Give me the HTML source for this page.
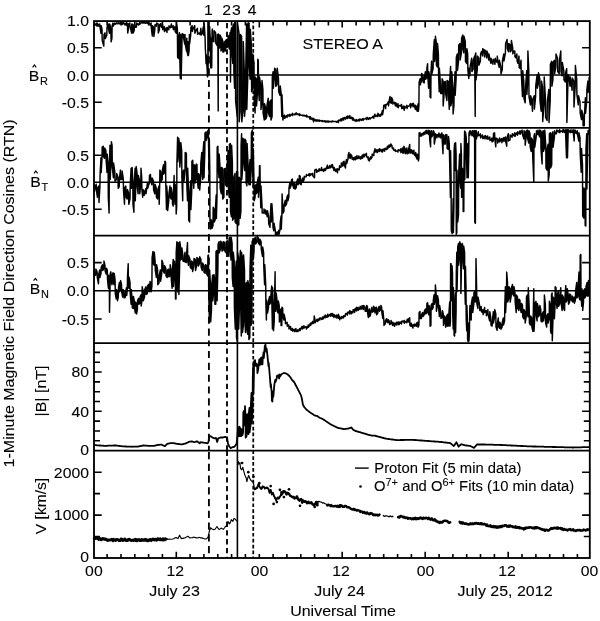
<!DOCTYPE html><html><head><meta charset="utf-8"><title>STEREO A</title>
<style>html,body{margin:0;padding:0;background:#fff}svg{display:block;will-change:transform;opacity:0.999}text{font-family:"Liberation Sans",Arial,Helvetica,sans-serif;fill:#000}</style></head><body>
<svg width="600" height="621" viewBox="0 0 600 621">
<rect width="600" height="621" fill="#fff"/>
<path d="M94.2 23.0 L94.4 25.4 L95.2 25.3 L96.1 23.2 L97.1 26.2 L97.3 23.0 L98.0 24.3 L98.8 26.2 L99.7 23.9 L99.9 26.2 L101.0 33.3 L101.2 25.7 L102.0 29.2 L102.2 40.4 L103.8 46.1 L104.0 34.5 L105.0 32.8 L105.2 38.6 L106.8 35.1 L107.0 27.4 L108.2 23.9 L108.4 28.0 L109.5 33.3 L109.7 23.9 L110.9 29.2 L111.1 41.8 L111.9 38.6 L112.1 25.7 L113.0 23.0 L113.2 26.2 L113.9 24.9 L114.8 23.1 L115.7 24.2 L116.5 22.8 L117.4 23.7 L118.3 22.8 L119.2 24.0 L120.1 22.5 L121.0 24.0 L121.9 22.5 L122.1 24.5 L122.7 23.6 L123.6 22.6 L124.5 24.8 L125.4 23.4 L126.3 25.4 L126.5 22.5 L127.5 23.9 L127.7 33.0 L128.6 28.0 L128.8 23.9 L129.8 23.0 L130.0 26.2 L131.6 33.0 L131.8 23.9 L132.8 24.8 L133.0 33.3 L134.2 30.7 L134.4 23.9 L135.3 27.3 L136.4 27.1 L136.6 23.0 L137.4 23.8 L138.5 24.9 L139.6 22.5 L139.8 24.5 L140.4 23.2 L141.3 22.5 L142.2 23.0 L143.1 22.6 L143.6 23.1 L144.1 22.5 L144.5 23.1 L145.0 22.8 L145.5 23.3 L146.0 22.7 L146.5 23.1 L147.0 22.7 L147.4 23.2 L147.9 22.5 L148.4 23.6 L149.3 22.9 L150.2 25.2 L151.1 23.0 L151.3 28.0 L152.3 36.0 L152.5 25.7 L153.7 27.4 L153.9 36.5 L154.8 29.8 L155.0 24.8 L155.6 24.9 L156.4 26.2 L156.6 23.0 L158.1 23.9 L158.3 33.0 L159.4 29.8 L159.6 24.8 L160.8 23.6 L161.0 26.2 L161.7 27.4 L162.6 24.8 L162.8 29.8 L163.5 28.8 L164.3 26.6 L164.5 31.6 L165.2 30.5 L166.1 27.9 L167.0 32.4 L167.2 27.4 L167.9 29.1 L168.8 29.8 L169.0 25.7 L169.6 26.9 L170.5 27.7 L171.4 23.9 L171.6 27.1 L172.3 27.4 L173.2 25.7 L173.4 29.8 L174.1 29.2 L175.0 26.6 L175.2 31.6 L176.4 33.3 L176.6 23.0 L177.4 29.2 L177.6 57.2 L178.5 58.5 L178.7 36.3 L179.4 32.8 L179.6 49.3 L180.3 78.5 L180.5 34.5 L181.0 36.3 L181.2 79.0 L182.0 40.4 L182.2 33.6 L183.5 34.5 L183.7 38.6 L184.7 43.9 L184.9 36.3 L185.0 34.5 L185.2 43.9 L186.5 51.0 L186.7 38.1 L186.8 38.1 L187.0 51.0 L187.9 55.5 L188.1 41.6 L188.2 41.6 L188.4 55.5 L189.1 51.0 L189.3 38.1 L189.4 34.5 L189.6 43.9 L190.7 35.1 L190.9 27.4 L192.1 25.7 L192.3 31.6 L193.4 28.2 L194.7 25.7 L194.9 33.3 L196.1 30.4 L197.4 28.3 L197.6 34.2 L198.3 33.5 L199.2 33.0 L200.0 34.6 L200.9 28.3 L201.1 35.1 L202.2 33.3 L203.4 26.6 L203.6 35.1 L204.0 34.2 L204.2 23.7 L205.1 37.9 L205.3 47.0 L206.1 63.8 L206.3 54.7 L207.2 70.1 L207.4 76.7 L207.7 76.7 L207.9 71.7 L207.9 22.5 L208.1 74.0 L208.2 24.5 L208.4 22.5 L208.5 22.5 L208.7 30.3 L209.4 49.6 L209.6 26.4 L210.3 39.8 L210.5 63.4 L210.7 67.7 L210.9 44.4 L211.5 37.9 L211.7 67.7 L211.9 49.3 L212.1 31.0 L212.4 28.9 L212.6 40.6 L213.9 41.8 L214.1 30.8 L215.6 32.8 L215.8 43.2 L217.2 45.7 L217.4 34.7 L217.7 34.5 L217.9 47.5 L218.2 110.9 L218.4 34.0 L218.6 35.4 L218.8 48.4 L219.7 47.5 L219.9 34.9 L220.8 36.3 L221.0 51.0 L221.6 49.3 L221.8 38.1 L222.7 40.7 L222.9 51.9 L223.8 51.9 L224.0 43.4 L224.6 41.6 L224.8 50.1 L225.4 51.0 L225.6 40.7 L226.6 39.5 L226.8 47.8 L227.8 46.6 L228.0 38.1 L228.9 35.4 L229.1 48.4 L229.8 49.3 L230.0 33.1 L230.3 32.4 L230.5 82.0 L230.8 51.0 L231.0 30.6 L231.9 27.4 L232.1 54.6 L232.8 63.4 L233.0 25.7 L233.7 23.9 L233.9 72.3 L234.6 88.2 L234.8 22.5 L235.4 22.5 L235.6 100.6 L237.2 116.5 L237.4 23.0 L239.0 32.8 L239.2 121.8 L240.2 111.2 L240.4 34.5 L241.6 36.3 L241.8 121.8 L243.1 109.4 L243.3 41.6 L244.3 71.7 L244.5 116.5 L245.5 105.9 L245.7 73.5 L246.6 23.9 L246.8 109.4 L247.8 75.8 L248.0 23.0 L249.1 23.0 L249.3 67.0 L250.1 79.3 L250.3 29.2 L251.4 45.1 L251.6 91.7 L252.6 88.2 L252.8 54.0 L254.0 62.8 L254.2 102.4 L255.1 113.0 L255.3 77.0 L256.3 78.8 L256.5 105.9 L257.6 91.7 L257.8 59.3 L258.3 60.2 L258.5 88.2 L259.3 100.6 L259.5 77.0 L260.8 85.9 L261.0 109.4 L261.8 102.4 L262.0 80.5 L262.9 89.4 L263.1 113.0 L264.3 120.1 L264.5 103.6 L265.5 107.1 L265.7 119.2 L266.8 116.5 L267.0 105.3 L268.2 98.2 L268.4 113.0 L269.6 116.5 L269.8 101.8 L270.8 100.0 L271.0 120.1 L272.1 116.5 L272.3 77.0 L273.1 71.7 L273.3 88.2 L274.4 77.6 L274.6 68.2 L275.6 69.9 L275.8 86.4 L277.0 84.7 L277.2 68.2 L278.5 78.8 L278.7 91.7 L280.0 95.3 L280.2 85.9 L281.1 92.9 L281.3 100.6 L281.8 116.5 L282.0 94.7 L282.7 114.2 L282.9 120.1 L283.5 116.8 L284.4 115.1 L284.6 118.3 L285.3 117.8 L286.2 115.7 L287.1 117.4 L287.3 115.1 L288.0 114.8 L288.8 116.0 L289.7 114.2 L289.9 116.5 L290.6 115.2 L291.5 114.3 L292.4 115.6 L292.6 113.3 L293.3 114.3 L294.2 114.9 L295.0 113.7 L295.9 114.7 L296.1 112.8 L296.8 113.6 L297.7 114.6 L298.6 114.0 L299.5 115.6 L299.7 113.8 L300.4 115.0 L301.2 115.2 L302.1 115.1 L303.0 116.0 L303.9 115.1 L304.8 116.1 L305.7 115.6 L306.5 116.9 L306.7 115.1 L307.4 116.7 L308.3 117.1 L309.2 116.6 L310.1 119.2 L310.3 116.8 L311.0 117.7 L311.9 119.5 L312.7 118.2 L313.6 121.8 L313.8 118.6 L314.5 119.6 L315.4 120.9 L315.9 119.6 L316.4 121.0 L316.8 120.2 L317.3 121.1 L317.8 119.8 L318.3 121.0 L318.8 120.5 L319.3 121.3 L319.7 120.1 L320.2 121.0 L320.7 120.7 L321.2 120.8 L321.7 120.8 L322.2 121.5 L322.6 120.5 L323.1 121.6 L323.6 121.2 L324.1 121.1 L324.6 120.7 L325.1 122.0 L325.5 120.9 L326.0 122.1 L326.5 121.2 L327.0 121.8 L327.5 121.0 L328.0 122.2 L328.5 121.1 L329.1 122.0 L329.6 121.3 L330.1 121.5 L330.6 121.4 L331.1 121.9 L331.6 121.3 L332.1 121.7 L332.6 120.9 L333.1 121.5 L334.0 121.4 L334.9 121.5 L335.8 121.4 L336.6 122.2 L337.5 120.9 L338.4 122.7 L338.6 120.4 L339.3 119.9 L340.2 120.8 L341.1 118.6 L341.3 120.9 L341.9 120.6 L342.8 118.1 L343.7 120.1 L343.9 117.7 L344.6 117.5 L345.5 119.2 L346.4 116.8 L347.3 118.6 L347.5 115.9 L348.1 115.9 L349.0 118.2 L349.9 115.6 L350.1 117.9 L350.8 118.5 L351.7 117.1 L352.6 120.1 L352.8 117.7 L353.5 118.5 L354.3 120.8 L355.2 120.1 L356.1 121.5 L356.3 119.5 L357.0 120.0 L357.9 121.1 L358.8 119.4 L359.6 120.9 L359.8 119.1 L360.5 119.3 L361.4 120.4 L362.3 118.8 L363.2 120.4 L363.4 118.6 L364.1 119.2 L365.0 118.8 L365.8 118.2 L366.7 119.7 L366.9 117.4 L367.6 117.9 L368.5 119.4 L369.4 117.7 L370.3 119.0 L371.2 117.5 L372.0 117.8 L372.9 116.5 L373.8 118.3 L374.0 115.9 L375.0 114.2 L375.2 116.5 L375.9 116.5 L376.8 115.2 L377.7 116.5 L377.9 113.3 L378.5 114.3 L379.4 116.2 L380.3 114.2 L380.5 116.2 L381.4 114.6 L382.4 110.6 L382.6 114.7 L383.5 109.4 L383.7 105.3 L384.6 104.9 L385.6 108.6 L385.8 104.4 L386.5 104.9 L387.4 103.8 L388.3 101.8 L388.5 105.9 L389.2 101.0 L390.0 96.5 L390.2 102.4 L391.3 103.2 L391.5 97.4 L392.7 100.0 L392.9 104.1 L393.6 102.9 L394.5 102.2 L395.4 105.9 L395.6 102.7 L396.2 103.5 L397.1 106.8 L398.0 103.6 L398.2 107.7 L398.9 105.7 L399.8 105.4 L400.7 106.1 L401.5 104.4 L401.7 108.6 L402.4 108.4 L403.3 106.1 L404.2 110.3 L404.4 106.2 L405.1 108.1 L406.0 107.1 L406.9 105.3 L407.1 108.6 L407.7 106.6 L408.6 106.1 L409.5 105.6 L410.4 103.6 L410.6 107.7 L411.3 105.4 L412.2 103.6 L413.1 106.8 L413.3 103.2 L414.2 105.5 L415.4 109.4 L415.6 105.3 L416.2 107.0 L417.1 111.2 L417.3 107.1 L418.2 103.6 L418.4 111.2 L418.9 105.9 L419.1 82.3 L420.1 78.8 L420.3 84.7 L421.4 81.1 L421.6 73.5 L422.8 75.2 L423.0 82.0 L424.2 82.9 L424.4 77.0 L425.4 71.7 L425.6 79.3 L426.7 77.6 L426.9 68.2 L427.6 63.7 L427.8 75.8 L428.6 88.2 L428.8 71.7 L429.9 77.0 L430.1 97.0 L430.8 97.9 L431.0 71.7 L431.6 61.1 L431.8 74.0 L433.1 68.7 L433.3 54.0 L434.3 39.8 L434.5 61.6 L435.2 56.3 L435.4 36.3 L436.2 41.6 L436.4 65.2 L437.3 67.0 L437.5 43.4 L438.4 54.0 L438.6 75.8 L439.2 91.7 L439.4 68.2 L440.5 85.9 L440.7 93.5 L441.9 93.5 L442.1 78.8 L443.0 80.5 L443.2 105.9 L444.0 95.3 L444.2 82.3 L445.4 81.4 L445.6 93.5 L446.9 100.6 L447.1 80.5 L448.3 81.4 L448.5 95.3 L449.3 109.4 L449.5 84.1 L450.6 66.4 L450.8 105.9 L451.6 102.4 L451.8 71.7 L452.9 89.4 L453.1 113.9 L453.9 105.9 L454.1 92.9 L455.0 71.7 L455.2 95.3 L456.1 79.3 L456.3 57.5 L457.3 54.0 L457.5 70.5 L458.5 61.6 L458.7 45.1 L460.0 43.4 L460.2 59.9 L461.4 52.8 L461.6 38.1 L462.8 34.9 L463.0 49.3 L463.8 52.8 L464.0 36.3 L465.3 41.6 L465.5 61.6 L466.7 63.4 L466.9 48.7 L467.7 54.0 L467.9 70.5 L468.8 78.5 L469.0 68.2 L469.7 69.9 L469.9 75.8 L470.0 73.7 L470.2 66.5 L471.7 58.2 L471.9 71.6 L473.1 69.5 L473.3 60.3 L474.6 56.1 L474.8 71.6 L475.2 116.4 L475.4 54.0 L475.8 53.0 L476.0 79.9 L477.3 69.5 L477.5 56.1 L478.8 58.2 L478.9 65.3 L480.4 61.1 L480.6 54.0 L481.5 51.5 L482.5 55.9 L482.7 48.8 L483.5 49.4 L484.6 57.0 L484.8 49.9 L485.6 51.4 L486.7 58.0 L486.9 50.9 L487.7 53.3 L488.8 60.1 L488.9 54.0 L489.8 58.7 L490.8 63.2 L491.0 58.2 L491.9 62.3 L492.9 64.3 L493.1 59.2 L494.0 60.2 L495.0 64.3 L495.2 58.2 L496.0 61.3 L497.1 62.2 L497.3 56.1 L498.1 63.1 L499.2 67.4 L499.4 60.3 L500.8 66.5 L501.0 73.7 L502.3 69.5 L502.5 60.3 L503.8 54.0 L503.9 61.1 L505.4 52.8 L505.6 43.6 L507.1 39.4 L507.3 48.6 L508.5 51.8 L508.7 43.6 L510.0 44.6 L510.2 51.8 L511.2 50.7 L511.4 40.5 L512.7 47.8 L512.9 53.9 L513.8 51.1 L514.8 50.9 L515.0 57.0 L515.8 57.7 L516.9 54.0 L517.1 61.1 L517.9 63.3 L519.0 56.1 L519.2 67.4 L520.0 68.3 L521.0 60.3 L521.2 71.6 L522.5 96.6 L522.7 70.7 L523.8 81.1 L524.0 98.7 L525.2 102.8 L525.4 89.4 L526.7 70.7 L526.9 94.5 L527.7 79.9 L527.9 50.9 L528.8 70.7 L529.0 96.6 L530.4 104.9 L530.6 95.7 L531.5 98.7 L532.5 111.2 L532.7 99.8 L534.2 95.7 L534.4 109.1 L535.6 96.6 L535.8 85.3 L537.1 74.8 L537.3 88.2 L538.3 84.1 L538.5 72.8 L539.8 79.0 L540.0 100.7 L541.2 111.2 L541.5 81.1 L542.5 87.3 L542.7 121.6 L544.0 104.9 L544.2 76.9 L545.4 97.8 L545.6 117.4 L547.1 120.5 L547.3 101.9 L548.8 89.4 L549.0 122.6 L550.2 100.7 L550.4 64.4 L551.7 61.3 L551.9 86.2 L552.9 79.9 L553.1 62.4 L554.4 60.3 L554.6 73.7 L555.8 67.4 L556.0 54.0 L557.5 58.2 L557.7 71.6 L559.2 73.7 L559.4 60.3 L560.8 50.9 L561.0 71.6 L562.1 75.7 L562.3 62.4 L563.8 70.7 L564.0 79.9 L565.4 82.0 L565.6 72.8 L566.7 68.6 L566.9 122.6 L567.9 84.1 L568.1 74.8 L569.0 76.8 L570.0 86.2 L570.2 76.9 L571.0 81.8 L572.1 90.3 L572.3 78.0 L573.8 81.1 L574.0 107.0 L575.2 86.2 L575.4 65.5 L576.7 79.0 L576.9 94.5 L578.3 104.9 L578.5 95.7 L580.0 101.9 L580.2 113.2 L581.5 119.5 L581.7 110.3 L582.9 114.4 L583.1 125.7 L584.2 125.7 L584.4 116.5 L585.4 97.8 L585.6 113.2 L586.7 100.7 L586.9 89.4 L587.9 81.1 L588.1 92.4 L589.0 86.2 L589.2 76.9" fill="none" stroke="#000" stroke-width="1.45" stroke-linejoin="round"/>
<path d="M94.2 184.2 L94.4 191.9 L95.2 186.6 L96.2 184.2 L96.4 190.1 L97.4 197.2 L97.6 187.8 L98.8 186.0 L99.0 202.5 L99.9 186.6 L100.1 173.6 L101.0 157.7 L101.2 172.4 L102.0 158.3 L102.2 147.1 L103.3 146.2 L103.5 156.5 L104.5 158.3 L104.7 148.0 L105.9 150.6 L106.1 160.0 L107.0 172.4 L107.2 154.1 L108.1 163.0 L108.3 197.2 L109.1 213.1 L109.3 170.1 L110.0 145.3 L110.2 179.5 L111.2 158.3 L111.4 141.8 L112.1 145.3 L112.3 167.1 L113.4 177.7 L113.6 163.0 L114.8 171.8 L115.0 181.3 L116.5 179.5 L116.7 173.6 L118.0 177.2 L118.2 188.3 L119.2 186.6 L119.4 178.9 L120.4 170.1 L120.6 179.5 L121.9 179.5 L122.1 171.0 L123.3 178.9 L123.5 190.1 L124.5 204.3 L124.7 187.8 L125.8 186.0 L126.0 197.2 L127.2 199.0 L127.4 189.5 L128.6 193.1 L128.8 204.3 L130.0 199.0 L130.2 186.0 L131.1 168.3 L131.3 188.3 L131.9 184.8 L132.1 167.4 L132.8 180.7 L133.0 204.3 L133.9 212.2 L134.1 186.0 L135.1 168.3 L135.3 200.7 L136.0 181.3 L136.2 166.5 L137.1 173.6 L137.3 186.6 L138.1 193.7 L138.3 175.4 L139.6 180.7 L139.8 193.7 L140.8 183.0 L141.0 168.3 L141.7 177.2 L141.9 190.1 L142.7 197.2 L142.9 189.5 L144.0 191.3 L144.2 195.4 L144.9 191.8 L145.8 188.7 L146.0 193.7 L146.6 189.4 L147.5 182.5 L147.7 188.3 L149.3 183.0 L149.5 175.4 L150.5 174.5 L150.7 181.3 L151.9 184.8 L152.1 178.0 L153.4 180.7 L153.6 190.1 L154.8 193.7 L155.0 184.2 L156.2 187.8 L156.4 197.2 L157.6 199.0 L157.8 189.5 L159.0 186.0 L159.2 204.3 L159.7 184.8 L159.9 170.1 L160.8 171.8 L161.0 181.3 L162.2 179.5 L162.4 170.1 L163.5 164.8 L163.7 174.2 L164.7 172.4 L164.9 161.2 L165.6 162.1 L165.8 184.8 L166.5 209.6 L166.7 186.0 L167.5 196.6 L167.7 210.5 L168.8 200.7 L169.0 193.1 L170.0 186.0 L170.2 197.2 L171.1 199.0 L171.3 187.8 L172.3 194.9 L172.5 204.3 L173.2 206.0 L173.4 196.6 L174.1 175.4 L174.3 193.7 L175.0 204.3 L175.2 184.2 L176.0 198.4 L176.2 214.0 L176.7 206.0 L176.9 163.0 L177.6 137.3 L177.8 161.8 L178.5 154.7 L178.7 138.2 L179.6 145.3 L179.8 167.1 L180.6 158.3 L180.8 142.6 L181.7 150.6 L181.9 177.7 L182.7 200.7 L182.9 171.8 L183.8 170.1 L184.0 181.3 L185.0 170.6 L185.2 152.4 L186.4 153.3 L186.6 179.5 L187.5 200.7 L187.7 168.3 L188.5 189.5 L188.7 220.2 L189.6 222.0 L189.8 194.9 L190.7 180.7 L190.9 209.6 L191.7 191.9 L191.9 161.2 L192.8 160.3 L193.0 179.5 L193.8 188.3 L194.0 164.8 L194.9 165.7 L195.1 183.0 L196.0 177.7 L196.2 163.9 L197.0 164.8 L197.2 179.5 L198.3 188.3 L198.5 173.6 L199.5 175.4 L199.7 190.1 L200.6 179.5 L200.8 163.0 L201.8 152.4 L202.0 172.4 L202.7 179.5 L202.9 154.1 L203.8 141.8 L204.0 177.7 L204.8 152.9 L205.0 132.9 L205.9 132.0 L206.1 140.6 L207.3 137.0 L207.5 131.1 L208.4 130.3 L208.6 145.9 L209.1 179.5 L209.3 138.2 L209.8 171.8 L210.0 225.5 L210.8 229.1 L211.0 219.6 L211.9 221.4 L212.1 228.2 L213.0 225.5 L213.2 207.2 L214.0 209.0 L214.2 222.0 L215.1 220.2 L215.3 210.8 L216.2 194.9 L216.4 218.4 L217.0 197.2 L217.2 147.1 L217.9 146.2 L218.1 165.3 L219.0 177.7 L219.2 154.1 L220.0 166.5 L220.2 188.3 L221.3 193.7 L221.5 167.4 L222.5 168.3 L222.7 199.0 L223.9 197.2 L224.1 169.2 L225.4 168.3 L225.6 184.8 L226.8 186.6 L227.0 166.5 L228.2 150.6 L228.4 188.3 L229.2 197.2 L229.4 144.4 L230.3 143.5 L230.5 211.4 L231.4 216.7 L231.6 145.3 L232.4 163.0 L232.6 220.2 L233.7 218.4 L233.9 177.2 L234.9 173.6 L235.1 222.0 L236.3 223.7 L236.5 171.8 L237.6 171.8 L237.8 225.5 L238.8 224.6 L239.0 177.2 L239.9 178.9 L240.1 218.4 L240.9 211.4 L241.1 145.3 L241.6 133.8 L241.8 179.5 L242.7 167.1 L242.9 138.2 L243.8 140.0 L244.0 161.8 L244.8 170.6 L245.0 139.1 L245.9 140.9 L246.1 183.0 L246.9 185.7 L247.1 143.5 L248.0 163.0 L248.2 181.3 L249.1 184.8 L249.3 168.3 L250.1 159.5 L250.3 184.8 L251.2 170.6 L251.4 132.9 L252.3 130.3 L252.5 161.8 L253.1 186.6 L253.3 148.8 L254.0 184.2 L254.2 200.7 L255.1 197.2 L255.3 186.0 L256.2 184.2 L256.4 193.7 L257.2 191.9 L257.4 182.5 L258.3 177.2 L258.5 197.2 L259.3 179.5 L259.5 165.7 L260.0 165.7 L260.2 188.3 L260.8 207.8 L261.0 186.0 L262.0 205.5 L262.2 213.1 L263.8 213.1 L264.0 209.0 L264.6 211.2 L265.5 214.0 L265.7 209.9 L266.4 213.1 L267.3 216.7 L267.5 210.8 L268.5 216.1 L268.7 223.7 L270.0 227.3 L270.2 217.9 L271.0 203.7 L271.2 222.0 L271.7 218.4 L271.9 203.7 L272.8 217.9 L273.0 227.3 L273.8 230.8 L274.0 223.2 L275.3 230.3 L275.5 234.4 L276.2 234.5 L277.0 232.0 L277.2 234.7 L277.9 233.4 L278.8 230.3 L279.0 234.4 L280.0 229.9 L280.2 223.2 L281.1 216.1 L281.3 229.1 L281.9 214.9 L282.1 194.0 L282.8 207.2 L283.0 213.1 L283.9 211.4 L284.1 205.5 L285.3 200.2 L285.5 206.0 L286.7 203.4 L286.9 197.5 L287.8 194.9 L288.0 200.7 L288.8 197.2 L289.0 187.8 L289.9 182.5 L290.1 188.3 L291.3 184.8 L291.5 179.8 L292.4 178.9 L292.6 184.8 L293.8 188.3 L294.0 182.5 L294.9 184.2 L295.1 189.2 L296.3 187.5 L296.5 182.5 L297.7 178.9 L297.9 184.8 L299.1 183.0 L299.3 175.4 L300.2 176.3 L300.4 183.9 L301.2 184.8 L301.4 180.7 L302.7 178.0 L302.9 182.2 L304.1 179.5 L304.3 176.3 L305.1 176.9 L306.2 176.8 L306.4 174.5 L307.2 175.2 L308.2 175.3 L309.2 173.6 L309.4 176.0 L310.1 175.4 L311.0 173.6 L311.9 174.8 L312.7 173.3 L312.9 176.0 L314.5 177.7 L314.7 170.1 L316.3 169.2 L316.5 172.4 L317.2 171.7 L318.1 170.2 L318.9 171.5 L319.1 168.7 L319.8 170.0 L320.7 170.4 L321.6 167.4 L321.8 170.6 L322.5 170.6 L323.4 169.2 L323.6 171.5 L324.2 169.8 L325.1 168.3 L325.3 170.6 L326.3 168.5 L327.4 165.1 L327.6 168.5 L328.5 168.1 L329.6 165.7 L329.8 168.0 L330.4 167.7 L331.3 165.0 L332.2 167.5 L332.4 164.4 L333.1 167.6 L334.0 170.6 L334.2 167.4 L334.9 169.6 L335.8 171.5 L336.0 169.2 L336.6 169.1 L337.5 172.8 L337.7 168.7 L338.4 169.6 L339.3 169.8 L339.5 165.7 L340.2 167.3 L341.1 167.1 L341.3 163.0 L341.9 164.3 L342.8 166.2 L343.0 162.1 L344.1 161.2 L344.3 165.3 L345.5 168.0 L345.7 163.0 L346.5 159.5 L346.7 163.6 L348.0 159.1 L348.2 155.0 L349.0 152.4 L349.2 157.4 L350.4 158.3 L350.6 154.1 L351.9 155.9 L352.1 159.1 L352.7 159.2 L353.5 157.7 L353.7 160.0 L354.3 159.1 L355.2 156.8 L355.4 159.7 L356.1 159.0 L357.0 155.6 L357.2 158.6 L357.9 158.6 L358.8 155.9 L359.0 158.6 L359.6 157.4 L360.5 156.8 L360.7 159.1 L361.4 157.7 L362.3 155.0 L362.5 158.3 L363.2 156.8 L364.1 154.1 L364.3 156.8 L365.2 155.0 L366.4 153.3 L366.6 156.5 L367.3 157.6 L368.1 156.8 L368.3 160.0 L369.4 160.9 L369.6 158.6 L370.6 156.8 L370.8 159.1 L372.0 157.4 L372.2 154.1 L372.9 154.9 L373.8 155.6 L374.0 152.4 L375.0 148.8 L375.2 152.1 L375.9 150.9 L376.8 149.7 L377.0 152.6 L377.7 152.0 L378.5 149.4 L379.4 151.5 L379.6 148.8 L380.3 149.3 L381.2 151.6 L382.1 149.2 L382.3 152.1 L383.0 150.9 L383.8 149.0 L384.7 151.2 L384.9 148.5 L385.6 148.3 L386.5 149.6 L387.4 146.2 L387.6 149.1 L388.3 146.8 L389.2 144.9 L389.4 147.3 L390.6 146.2 L390.8 143.9 L392.0 145.7 L392.2 148.0 L392.8 148.8 L393.6 148.0 L393.8 150.3 L394.5 150.5 L395.4 149.7 L395.6 151.5 L396.2 151.1 L397.1 150.9 L398.0 152.1 L398.2 149.7 L398.9 150.0 L399.8 150.7 L400.7 148.8 L400.9 152.6 L401.5 151.4 L402.4 148.0 L402.6 152.9 L403.7 152.9 L403.9 146.2 L405.1 148.8 L405.3 153.8 L406.0 152.0 L406.9 148.0 L407.1 153.8 L408.3 153.3 L408.5 149.7 L409.7 144.4 L409.9 152.9 L410.8 152.9 L411.0 149.7 L412.2 150.6 L412.4 153.8 L413.1 153.2 L413.9 150.3 L414.1 154.4 L414.8 155.4 L415.7 152.4 L415.9 156.5 L417.1 159.1 L417.3 154.1 L418.2 155.9 L418.4 160.9 L418.9 158.3 L419.1 132.9 L420.0 132.6 L420.2 136.1 L421.4 136.1 L421.6 133.8 L422.3 133.8 L423.1 135.2 L423.3 132.9 L424.0 132.4 L424.9 134.4 L425.1 131.5 L425.8 130.9 L426.7 133.5 L426.9 130.3 L427.6 131.9 L428.5 134.4 L428.7 130.3 L429.5 130.8 L429.7 139.7 L430.6 146.8 L430.8 131.1 L431.6 130.8 L431.8 137.0 L433.1 134.4 L433.3 130.8 L434.1 132.0 L434.3 144.1 L435.2 138.8 L435.4 133.8 L436.1 134.6 L436.9 137.9 L437.1 134.7 L437.8 134.6 L438.7 137.0 L438.9 132.9 L439.6 135.2 L440.5 137.9 L440.7 134.7 L441.9 132.9 L442.1 138.8 L443.0 153.8 L443.2 134.7 L444.0 135.6 L444.2 144.1 L445.4 144.1 L445.6 134.7 L446.9 134.7 L447.1 148.5 L448.3 149.4 L448.5 136.4 L449.3 143.5 L449.5 154.7 L450.4 197.2 L450.6 150.6 L451.1 180.7 L451.3 230.8 L452.2 233.5 L452.4 226.7 L453.2 198.4 L453.4 232.6 L453.9 206.0 L454.1 150.6 L454.6 143.5 L454.8 161.8 L455.4 170.6 L455.6 142.6 L456.1 154.1 L456.3 234.4 L456.8 232.6 L457.0 170.1 L457.5 194.9 L457.7 222.0 L458.5 214.9 L458.7 173.6 L459.6 154.1 L459.8 179.5 L460.7 188.3 L460.9 143.5 L461.4 154.1 L461.6 197.2 L462.1 197.2 L462.3 168.3 L463.0 170.1 L463.2 211.4 L463.8 211.4 L464.0 168.3 L464.6 131.1 L464.8 179.5 L465.3 147.6 L465.5 132.0 L466.3 138.2 L466.5 154.7 L467.0 177.7 L467.2 144.4 L468.1 143.5 L468.3 177.7 L468.8 152.9 L469.0 132.9 L469.7 131.1 L469.9 135.2 L470.0 134.7 L470.2 130.7 L471.0 132.3 L472.1 135.8 L472.3 130.7 L472.9 131.7 L473.8 136.8 L473.9 130.7 L474.6 130.7 L474.8 222.2 L475.4 223.3 L475.6 130.7 L476.2 130.7 L476.4 138.9 L477.3 135.4 L478.3 131.8 L478.5 135.8 L479.4 135.4 L480.4 133.8 L480.6 137.9 L481.5 136.1 L482.5 134.9 L482.7 138.5 L483.3 138.5 L484.2 136.3 L485.0 138.9 L485.2 135.5 L485.9 136.0 L486.8 138.8 L487.7 135.9 L487.9 139.3 L488.8 138.4 L489.8 137.0 L490.0 140.6 L490.8 140.4 L491.9 138.0 L492.1 142.0 L493.3 141.0 L493.5 133.4 L494.6 132.8 L494.8 138.9 L495.8 146.8 L496.0 138.0 L497.5 139.1 L497.7 143.1 L498.5 141.1 L499.6 138.0 L499.8 142.0 L500.6 140.2 L501.7 138.4 L501.9 142.7 L502.7 139.4 L503.8 137.6 L503.9 141.4 L504.6 140.2 L505.4 137.0 L505.6 141.0 L506.7 146.2 L506.9 138.0 L508.3 133.8 L508.5 141.0 L510.0 139.9 L510.2 134.9 L511.0 136.0 L512.1 137.2 L512.3 133.8 L513.0 134.4 L513.9 135.8 L514.8 132.8 L515.0 136.4 L515.7 134.7 L516.6 132.9 L517.5 135.2 L517.7 131.8 L518.3 132.3 L519.2 133.8 L520.0 130.7 L520.2 134.3 L521.0 132.0 L522.1 130.1 L522.3 133.7 L523.8 138.9 L524.0 130.7 L525.0 131.8 L525.2 145.2 L526.2 136.8 L526.5 130.7 L527.5 130.1 L527.7 138.9 L528.8 143.1 L529.0 130.7 L530.0 133.8 L530.2 147.2 L531.2 151.4 L531.5 138.0 L532.5 140.1 L532.7 155.6 L533.8 182.2 L534.0 135.9 L534.6 133.8 L534.8 147.2 L536.2 136.8 L536.5 130.7 L537.1 132.9 L537.9 134.7 L538.1 130.1 L538.8 133.7 L539.6 136.8 L539.8 130.1 L540.8 130.7 L541.0 149.3 L542.1 163.9 L542.3 131.8 L543.3 130.7 L543.5 151.4 L544.6 147.2 L544.8 130.1 L545.8 146.3 L546.0 168.1 L547.1 170.2 L547.3 148.4 L548.1 144.3 L548.3 181.0 L549.2 174.3 L549.4 133.8 L550.4 132.8 L550.6 168.1 L551.7 164.9 L551.9 133.8 L552.9 131.8 L553.1 147.2 L554.4 136.8 L554.6 130.7 L555.4 133.8 L556.5 133.7 L556.7 130.1 L557.5 130.3 L558.5 132.1 L559.6 129.7 L559.8 132.7 L560.6 130.9 L561.7 131.0 L562.7 132.2 L562.9 129.7 L563.6 129.8 L564.5 132.4 L565.4 129.7 L565.6 132.7 L566.5 157.7 L566.7 129.7 L567.3 129.7 L567.5 157.7 L568.1 133.7 L568.3 129.7 L569.1 130.4 L570.1 132.7 L571.0 129.7 L571.2 132.2 L572.1 132.2 L573.1 129.7 L573.3 132.7 L574.2 141.0 L574.4 130.1 L575.4 130.1 L575.6 132.7 L576.4 133.6 L577.3 130.7 L577.5 134.7 L578.8 141.0 L579.0 132.8 L580.0 138.0 L580.2 153.5 L581.2 172.2 L581.5 148.4 L582.5 165.1 L582.7 216.0 L583.8 218.1 L584.0 188.0 L585.0 190.1 L585.2 225.4 L585.8 226.0 L586.0 148.4 L586.7 133.8 L586.9 188.9 L587.9 136.8 L588.1 130.7 L589.0 130.1 L589.2 134.7" fill="none" stroke="#000" stroke-width="1.45" stroke-linejoin="round"/>
<path d="M94.2 270.0 L94.4 275.9 L95.7 275.0 L95.9 269.1 L97.1 271.8 L97.3 277.6 L98.5 283.8 L98.7 274.4 L99.7 270.0 L99.9 277.6 L101.0 273.2 L101.2 267.3 L102.4 264.7 L102.6 270.6 L103.8 268.8 L104.0 261.1 L105.0 265.6 L105.2 271.5 L106.3 274.1 L106.5 268.2 L107.3 270.0 L107.5 279.4 L108.4 288.3 L108.6 275.3 L109.3 278.8 L109.5 312.2 L110.0 290.0 L110.2 273.5 L110.9 271.8 L111.1 281.2 L111.9 284.7 L112.1 275.3 L113.0 272.7 L113.2 283.0 L114.1 284.7 L114.3 273.5 L115.1 280.6 L115.3 293.6 L116.2 298.9 L116.4 289.5 L117.3 291.2 L117.5 300.7 L118.3 297.1 L118.5 287.7 L119.4 282.4 L119.6 291.8 L120.4 288.3 L120.6 280.6 L121.5 284.2 L121.7 291.8 L122.7 297.1 L122.9 289.5 L124.0 291.2 L124.2 298.0 L125.4 297.1 L125.6 292.1 L126.5 287.7 L126.7 295.3 L127.3 290.0 L127.5 277.1 L128.2 263.8 L128.4 286.5 L128.9 288.3 L129.1 277.1 L130.0 282.4 L130.2 293.6 L131.1 304.2 L131.3 289.5 L132.1 298.3 L132.3 307.7 L133.2 308.6 L133.4 296.5 L134.2 300.1 L134.4 307.7 L135.3 313.0 L135.5 301.9 L136.4 303.6 L136.6 313.9 L137.4 309.5 L137.6 300.1 L138.7 298.3 L138.9 304.2 L139.9 303.3 L140.1 296.5 L141.0 294.8 L141.2 306.0 L142.0 300.7 L142.2 286.8 L143.1 291.2 L143.3 300.7 L144.5 297.1 L144.7 289.5 L145.9 286.8 L146.1 294.5 L147.3 293.6 L147.5 285.9 L148.8 284.2 L149.0 291.8 L149.8 290.9 L150.0 281.5 L150.9 282.4 L151.1 291.8 L151.9 286.5 L152.1 257.6 L153.0 251.4 L153.2 263.5 L154.1 265.3 L154.3 252.3 L155.1 261.1 L155.3 270.6 L156.4 277.6 L156.6 264.7 L157.6 270.0 L157.8 284.7 L159.0 283.0 L159.2 275.3 L160.4 270.0 L160.6 281.2 L161.7 274.1 L161.9 260.3 L162.9 262.9 L163.1 270.6 L164.3 273.2 L164.5 265.6 L165.8 268.2 L166.0 275.9 L167.2 277.6 L167.4 270.0 L168.6 269.1 L168.8 276.8 L170.0 275.9 L170.2 264.7 L171.1 270.0 L171.3 279.4 L172.1 288.3 L172.3 271.8 L173.2 259.4 L173.4 286.5 L174.2 277.6 L174.4 261.1 L175.3 270.0 L175.5 298.9 L176.0 298.9 L176.2 252.3 L176.9 241.7 L177.1 286.5 L177.8 291.8 L178.0 242.6 L178.7 243.4 L178.9 294.5 L179.6 268.8 L179.8 241.7 L180.6 247.0 L180.8 259.9 L181.7 258.2 L181.9 247.9 L182.7 254.1 L182.9 260.8 L184.2 261.7 L184.4 255.8 L185.0 252.3 L185.2 261.7 L186.4 262.6 L186.6 254.1 L187.5 242.6 L187.7 259.9 L188.5 265.3 L188.7 255.8 L190.0 259.4 L190.2 267.0 L191.4 268.8 L191.6 261.1 L192.4 262.0 L192.6 271.5 L193.8 266.1 L194.0 258.5 L195.3 259.4 L195.5 270.6 L196.7 265.3 L196.9 257.6 L198.1 258.5 L198.3 266.1 L199.5 263.5 L199.7 256.7 L200.9 259.4 L201.1 267.0 L202.3 270.6 L202.5 262.9 L203.8 265.6 L204.0 272.3 L205.2 273.2 L205.4 264.7 L206.6 265.6 L206.8 274.1 L207.7 275.9 L207.9 255.8 L208.5 255.0 L208.7 290.0 L209.4 321.9 L209.6 270.0 L210.5 284.2 L210.7 321.9 L211.5 309.5 L211.7 285.9 L212.6 275.3 L212.8 300.7 L213.7 291.8 L213.9 274.4 L214.7 278.8 L214.9 304.2 L215.8 304.2 L216.0 251.4 L216.9 250.5 L217.1 300.7 L217.9 268.8 L218.1 244.3 L219.0 241.7 L219.2 252.9 L220.4 249.3 L220.6 241.3 L221.8 242.6 L222.0 251.1 L223.2 250.2 L223.4 241.7 L224.6 242.6 L224.8 251.1 L226.1 252.9 L226.3 241.7 L227.5 240.8 L227.7 254.6 L228.9 256.4 L229.1 238.1 L230.0 237.3 L230.2 247.6 L231.0 259.9 L231.2 237.3 L232.1 243.4 L232.3 277.6 L233.1 286.5 L233.3 252.3 L234.2 261.1 L234.4 307.7 L235.3 329.0 L235.5 270.0 L236.3 261.1 L236.5 337.8 L237.4 341.4 L237.6 252.3 L238.5 257.6 L238.7 329.0 L239.5 304.2 L239.7 261.1 L240.4 250.5 L240.6 300.7 L241.3 336.1 L241.5 252.3 L242.3 257.6 L242.5 332.5 L243.4 325.4 L243.6 255.0 L244.5 270.0 L244.7 318.4 L245.5 332.5 L245.7 284.2 L246.6 282.4 L246.8 329.0 L247.7 334.3 L247.9 280.6 L248.7 285.9 L248.9 339.6 L249.8 337.8 L250.0 270.0 L250.8 245.2 L251.0 325.4 L251.9 321.9 L252.1 241.7 L253.0 239.9 L253.2 259.9 L254.0 251.1 L254.2 239.0 L255.4 237.3 L255.6 244.0 L256.9 242.2 L257.1 236.4 L258.3 237.8 L258.5 243.1 L259.7 244.9 L259.9 239.0 L261.1 241.7 L261.3 249.3 L262.5 256.4 L262.7 247.0 L263.6 252.3 L263.8 267.0 L264.6 284.7 L264.8 264.7 L265.7 284.2 L265.9 304.2 L266.4 320.1 L266.6 300.1 L267.3 303.6 L267.5 313.0 L268.5 307.7 L268.7 300.1 L269.6 296.5 L269.8 304.2 L270.7 302.4 L270.9 294.8 L271.7 285.9 L271.9 304.2 L272.4 329.0 L272.6 287.7 L273.3 314.2 L273.5 330.7 L274.2 321.9 L274.4 305.4 L275.1 271.8 L275.3 311.3 L276.0 307.7 L276.2 293.0 L277.0 300.1 L277.2 311.3 L278.1 313.0 L278.3 301.0 L279.2 305.4 L279.4 321.9 L280.0 320.1 L280.2 310.7 L280.9 308.9 L281.1 325.4 L281.8 325.4 L282.0 307.2 L282.7 308.1 L282.9 316.6 L283.9 320.1 L284.1 314.2 L285.3 319.6 L285.5 323.7 L286.2 323.2 L287.1 322.2 L287.3 326.3 L288.0 325.4 L288.8 324.9 L289.0 329.0 L289.7 327.5 L290.6 326.6 L290.8 329.9 L291.5 330.3 L292.4 328.4 L292.6 331.1 L293.3 330.4 L294.2 329.3 L294.4 331.6 L295.0 330.7 L295.9 328.4 L296.1 331.6 L296.8 331.5 L297.7 329.8 L297.9 331.6 L298.8 330.1 L299.8 328.4 L300.0 330.7 L301.0 328.4 L302.1 326.3 L302.3 329.0 L303.0 328.3 L303.9 325.8 L304.1 328.1 L305.0 327.2 L306.2 326.6 L306.4 329.0 L307.3 327.7 L308.3 324.9 L308.5 327.2 L309.4 325.8 L310.4 323.1 L310.6 325.4 L311.6 323.2 L312.7 321.3 L312.9 323.7 L314.0 322.8 L314.2 316.0 L315.0 319.6 L315.2 322.8 L316.1 320.8 L317.2 319.2 L317.4 321.5 L318.1 320.9 L318.9 318.7 L319.8 320.1 L320.0 317.8 L320.7 318.1 L321.6 319.2 L322.5 316.9 L322.7 319.2 L323.4 318.6 L324.2 316.1 L325.1 318.0 L325.3 315.1 L326.0 315.9 L326.9 317.3 L327.8 314.2 L328.0 316.9 L328.7 316.0 L329.6 314.5 L330.4 316.2 L330.6 313.9 L331.3 313.6 L332.2 316.2 L332.4 313.4 L333.1 314.4 L334.0 317.5 L334.2 314.6 L335.1 315.8 L336.3 318.0 L336.5 315.1 L337.2 315.6 L338.1 318.4 L338.3 314.2 L338.9 315.6 L339.8 319.8 L340.0 316.9 L340.7 318.2 L341.6 318.7 L341.8 316.4 L342.5 317.0 L343.4 318.0 L343.6 315.7 L344.2 316.3 L345.1 316.6 L345.3 314.2 L346.2 313.4 L347.3 315.2 L347.5 312.5 L348.3 311.9 L349.4 313.9 L349.6 310.7 L350.3 311.2 L351.2 313.9 L351.4 311.6 L352.0 311.9 L352.9 313.0 L353.1 309.8 L353.8 309.7 L354.7 312.2 L354.9 308.9 L355.6 308.2 L356.5 310.9 L356.7 307.2 L357.3 308.0 L358.2 310.4 L358.4 307.5 L359.1 308.5 L360.0 309.5 L360.2 306.3 L360.9 307.5 L361.8 309.2 L362.0 305.8 L362.7 306.0 L363.5 309.5 L363.7 305.4 L365.0 307.2 L365.2 311.3 L366.4 311.3 L366.6 305.4 L367.4 306.3 L367.6 313.0 L368.3 317.5 L368.5 310.7 L369.4 308.9 L369.6 316.6 L370.6 314.8 L370.8 310.7 L372.0 307.2 L372.2 312.2 L373.5 311.3 L373.7 306.3 L374.2 307.5 L375.0 313.0 L375.2 308.1 L376.4 307.2 L376.6 314.8 L377.8 313.0 L378.0 308.9 L379.2 306.3 L379.4 311.3 L380.7 309.5 L380.9 305.4 L381.7 307.2 L381.9 313.0 L382.8 318.4 L383.0 310.7 L383.8 319.6 L384.0 325.4 L385.3 323.7 L385.5 320.4 L386.7 318.7 L386.9 321.9 L388.1 322.8 L388.3 319.6 L389.5 321.3 L389.7 324.6 L390.9 323.7 L391.1 320.4 L391.8 323.1 L392.7 325.4 L392.9 322.2 L393.6 323.6 L394.5 326.3 L394.7 323.1 L395.4 323.8 L396.2 325.1 L396.4 322.2 L397.1 322.1 L398.0 324.7 L398.9 321.7 L399.1 324.6 L399.8 323.3 L400.7 322.0 L401.5 324.0 L401.7 321.3 L402.4 321.1 L403.3 322.0 L404.2 320.4 L404.4 323.3 L405.1 322.1 L406.0 321.2 L406.9 322.8 L407.1 319.6 L407.7 319.2 L408.6 321.9 L408.8 318.7 L409.7 317.8 L409.9 325.4 L411.1 326.3 L411.3 323.1 L412.0 325.6 L412.9 328.1 L413.1 324.9 L413.8 324.5 L414.6 326.3 L414.8 324.0 L415.5 324.9 L416.4 326.3 L416.6 323.1 L417.8 322.2 L418.0 327.2 L418.9 325.4 L419.1 312.5 L420.0 311.6 L420.2 318.4 L421.4 318.4 L421.6 314.2 L422.8 312.5 L423.0 316.6 L424.2 314.8 L424.4 310.7 L425.6 308.9 L425.8 313.9 L426.7 313.0 L426.9 303.6 L427.7 302.7 L427.9 311.3 L428.8 314.8 L429.0 305.4 L429.9 308.9 L430.1 326.3 L430.9 325.4 L431.1 305.4 L432.0 303.6 L432.2 309.5 L433.1 307.7 L433.3 300.1 L434.1 294.8 L434.3 304.2 L435.2 300.7 L435.4 285.0 L436.2 294.8 L436.4 311.3 L437.3 306.0 L437.5 295.7 L438.4 300.1 L438.6 307.7 L439.4 316.6 L439.6 305.4 L440.8 312.5 L441.0 318.4 L442.3 317.5 L442.5 310.7 L443.3 314.2 L443.5 325.4 L444.4 321.9 L444.6 316.0 L445.4 317.8 L445.6 327.2 L446.5 325.4 L446.7 316.0 L447.6 314.2 L447.8 326.3 L448.6 325.4 L448.8 315.1 L449.7 301.9 L449.9 326.3 L450.4 321.9 L450.6 263.8 L451.1 263.8 L451.3 291.8 L451.8 300.7 L452.0 265.6 L452.5 273.5 L452.7 313.0 L453.2 329.0 L453.4 287.7 L453.9 305.4 L454.1 335.2 L454.6 336.1 L454.8 310.7 L455.4 293.0 L455.6 332.5 L456.1 311.3 L456.3 273.5 L456.8 252.3 L457.0 291.8 L457.5 268.8 L457.7 247.0 L458.5 243.4 L458.7 265.3 L459.6 256.4 L459.8 241.7 L460.7 245.2 L460.9 293.6 L461.4 268.8 L461.6 244.3 L462.4 243.4 L462.6 258.2 L463.5 268.8 L463.7 246.1 L464.6 252.3 L464.8 286.5 L465.3 304.2 L465.5 266.5 L466.0 287.7 L466.2 318.4 L466.7 330.7 L466.9 305.4 L467.4 319.6 L467.6 339.6 L468.1 341.7 L468.3 330.2 L468.8 323.1 L469.0 341.0 L469.5 329.0 L469.7 310.7 L470.0 305.4 L470.2 318.8 L471.2 319.9 L471.4 303.4 L472.5 297.1 L472.7 312.6 L473.8 304.2 L473.9 292.9 L475.0 290.9 L475.2 302.1 L475.8 300.1 L476.0 258.6 L476.7 290.9 L476.9 304.2 L477.9 308.4 L478.1 297.1 L479.6 305.4 L479.8 310.5 L480.4 309.6 L481.2 306.5 L481.4 311.5 L482.1 312.2 L482.9 309.6 L483.1 314.6 L483.8 311.9 L484.6 307.5 L484.8 312.6 L485.4 310.7 L486.2 310.6 L486.4 315.7 L487.1 314.5 L487.9 309.6 L488.1 314.6 L489.6 320.9 L489.8 311.7 L490.8 317.9 L491.0 325.1 L492.1 326.1 L492.3 322.1 L493.3 311.7 L493.5 323.0 L494.6 316.7 L494.8 309.6 L495.8 313.8 L496.0 327.1 L497.1 330.3 L497.3 324.2 L498.3 317.9 L498.5 327.1 L499.6 328.2 L499.8 322.1 L500.8 324.2 L501.0 329.2 L502.1 327.1 L502.3 322.1 L503.3 317.9 L503.5 325.1 L504.6 320.9 L504.8 305.4 L505.4 286.7 L505.6 312.6 L506.5 295.9 L506.7 272.1 L507.5 282.5 L507.7 302.1 L508.8 298.0 L508.9 286.7 L510.0 288.8 L510.2 302.1 L511.2 295.9 L511.4 287.7 L512.5 284.6 L512.7 293.8 L513.8 295.9 L514.0 286.7 L515.0 292.9 L515.2 302.1 L516.2 312.6 L516.5 295.0 L517.5 297.1 L517.7 308.4 L518.8 310.5 L519.0 299.2 L520.0 300.2 L520.2 308.4 L521.2 312.6 L521.5 303.4 L522.5 305.4 L522.7 316.7 L523.8 318.8 L524.0 309.6 L525.0 311.7 L525.2 323.0 L526.2 316.7 L526.5 297.1 L527.3 295.0 L527.5 314.6 L528.1 316.7 L528.3 287.7 L529.2 307.5 L529.4 323.0 L530.4 325.1 L530.6 315.9 L531.7 317.9 L531.9 327.1 L532.9 331.3 L533.1 322.1 L533.8 288.8 L534.0 331.3 L534.8 316.7 L535.0 303.4 L536.0 301.3 L536.2 314.6 L537.1 320.9 L537.3 303.4 L538.3 307.5 L538.5 316.7 L539.6 314.6 L539.8 305.4 L540.8 309.6 L541.0 320.9 L542.1 321.9 L542.3 313.8 L543.3 311.7 L543.5 320.9 L544.2 316.7 L544.4 295.0 L545.4 305.4 L545.6 323.0 L546.7 327.1 L546.9 315.9 L547.9 313.8 L548.1 323.0 L549.2 318.8 L549.4 301.3 L550.4 305.4 L550.6 331.3 L551.2 333.4 L551.5 295.0 L552.1 292.9 L552.3 340.7 L552.9 320.9 L553.1 297.1 L554.2 299.2 L554.4 318.8 L555.0 306.3 L555.2 286.7 L556.0 287.7 L556.2 302.1 L557.1 308.4 L557.3 295.0 L558.3 290.9 L558.5 306.3 L559.6 304.2 L559.8 295.0 L560.8 287.7 L561.0 302.1 L562.1 310.5 L562.3 295.0 L563.3 297.1 L563.5 308.4 L564.6 310.5 L564.8 299.2 L565.8 285.6 L566.0 302.1 L567.1 300.1 L567.3 288.8 L568.3 295.0 L568.5 304.2 L569.6 302.1 L569.8 294.0 L570.8 295.0 L571.0 300.1 L571.7 300.8 L572.5 296.1 L572.7 302.1 L573.3 300.7 L574.2 297.1 L574.4 303.2 L575.4 300.1 L575.6 290.9 L576.7 282.5 L576.9 298.0 L577.9 295.9 L578.1 286.7 L579.0 272.1 L579.2 298.0 L580.0 300.1 L580.2 255.4 L580.8 254.4 L581.0 291.7 L581.7 306.3 L581.9 288.8 L582.5 295.0 L582.7 310.5 L583.5 302.1 L583.7 290.9 L584.6 288.8 L584.8 298.0 L585.8 295.9 L586.0 286.7 L587.1 282.5 L587.3 295.9 L588.3 295.9 L588.5 280.4 L589.0 281.5 L589.2 294.9" fill="none" stroke="#000" stroke-width="1.45" stroke-linejoin="round"/>
<path d="M94.4 445.1 L94.9 445.1 L95.4 445.2 L95.8 445.2 L96.3 445.2 L96.8 445.3 L97.3 445.3 L97.7 445.4 L98.2 445.4 L98.7 445.4 L99.2 445.5 L99.7 445.5 L100.2 445.5 L100.7 445.6 L101.2 445.6 L101.7 445.6 L102.2 445.7 L102.7 445.7 L103.2 445.7 L103.7 445.8 L104.2 445.8 L104.7 445.8 L105.2 445.8 L105.7 445.8 L106.2 445.8 L106.7 445.8 L107.2 445.8 L107.7 445.7 L108.2 445.7 L108.7 445.7 L109.2 445.7 L109.7 445.7 L110.2 445.7 L110.7 445.6 L111.2 445.6 L111.7 445.6 L112.2 445.6 L112.7 445.6 L113.2 445.6 L113.7 445.5 L114.2 445.5 L114.7 445.5 L115.2 445.5 L115.7 445.5 L116.2 445.5 L116.7 445.6 L117.2 445.7 L117.7 445.7 L118.2 445.8 L118.7 445.9 L119.2 445.9 L119.7 446.0 L120.2 446.1 L120.7 446.1 L121.2 446.2 L121.7 446.2 L122.2 446.3 L122.7 446.3 L123.2 446.3 L123.7 446.4 L124.2 446.4 L124.7 446.4 L125.2 446.5 L125.7 446.5 L126.2 446.5 L126.7 446.6 L127.2 446.6 L127.7 446.6 L128.2 446.6 L128.7 446.6 L129.2 446.7 L129.7 446.7 L130.2 446.7 L130.7 446.7 L131.2 446.7 L131.7 446.7 L132.2 446.8 L132.7 446.7 L133.2 446.7 L133.7 446.7 L134.2 446.7 L134.7 446.7 L135.2 446.7 L135.7 446.6 L136.2 446.6 L136.7 446.6 L137.2 446.6 L137.7 446.6 L138.2 446.5 L138.7 446.4 L139.2 446.3 L139.7 446.2 L140.2 446.1 L140.7 446.0 L141.2 445.9 L141.7 445.8 L142.2 445.7 L142.7 445.6 L143.2 445.5 L143.7 445.5 L144.2 445.5 L144.7 445.6 L145.2 445.6 L145.7 445.6 L146.2 445.7 L146.7 445.7 L147.2 445.7 L147.7 445.8 L148.2 445.8 L148.7 445.8 L149.2 445.8 L149.7 445.8 L150.2 445.8 L150.7 445.8 L151.2 445.8 L151.7 445.8 L152.2 445.8 L152.7 445.8 L153.2 445.8 L153.7 445.8 L154.2 445.8 L154.7 445.7 L155.2 445.6 L155.7 445.4 L156.3 445.3 L156.8 445.2 L157.3 445.0 L157.8 444.9 L158.4 444.9 L158.9 444.8 L159.4 444.8 L159.9 444.7 L160.5 444.7 L161.0 444.6 L161.5 444.6 L162.0 444.8 L162.4 445.0 L162.9 445.3 L163.4 445.5 L163.9 445.7 L164.3 446.0 L164.8 446.2 L165.4 445.7 L165.9 445.1 L166.5 444.6 L167.0 444.0 L167.5 443.9 L168.0 443.7 L168.6 443.6 L169.1 443.5 L169.6 443.3 L170.1 443.2 L170.7 443.1 L171.2 443.1 L171.7 443.1 L172.2 443.2 L172.8 443.2 L173.3 443.2 L173.8 443.2 L174.3 443.3 L174.9 443.4 L175.4 443.5 L175.9 443.6 L176.4 443.7 L177.0 443.8 L177.5 443.9 L178.0 444.0 L178.5 444.1 L179.0 444.1 L179.6 444.2 L180.1 444.2 L180.6 444.3 L181.1 444.3 L181.7 444.4 L182.2 444.3 L182.7 444.2 L183.2 444.1 L183.8 443.9 L184.3 443.8 L184.8 443.7 L185.3 443.6 L185.9 443.4 L186.4 443.1 L186.9 442.8 L187.4 442.6 L188.0 442.3 L188.5 442.1 L189.0 441.8 L189.5 441.7 L189.9 441.7 L190.4 441.6 L190.8 441.6 L191.3 441.5 L191.8 441.4 L192.2 441.6 L192.7 441.7 L193.1 441.8 L193.6 441.9 L194.0 442.0 L194.5 442.2 L195.0 442.0 L195.4 441.9 L195.9 441.7 L196.3 441.6 L196.8 441.4 L197.3 441.3 L197.7 441.7 L198.2 442.1 L198.7 442.5 L199.2 442.9 L199.6 443.3 L200.1 442.8 L200.6 442.2 L201.1 442.3 L201.5 442.4 L202.0 442.4 L202.5 442.5 L203.0 442.6 L203.5 442.6 L204.0 442.7 L204.5 442.8 L205.0 442.9 L205.5 442.9 L206.1 443.0 L206.6 443.1 L207.1 443.2 L207.7 443.3 L208.1 442.6 L208.5 441.9 L209.2 436.6 L209.7 436.5 L210.2 436.3 L210.7 436.2 L211.1 436.5 L211.5 436.8 L212.0 437.2 L212.4 437.5 L212.9 437.7 L213.3 437.9 L213.8 438.1 L214.2 438.3 L214.6 438.3 L215.1 438.2 L215.5 438.1 L216.0 438.0 L216.6 439.9 L217.2 441.9 L217.7 440.1 L218.3 438.3 L218.8 438.1 L219.3 437.9 L219.9 437.7 L220.4 437.5 L220.9 437.5 L221.5 437.5 L222.0 437.5 L222.5 437.5 L223.1 437.5 L223.5 437.4 L224.0 437.2 L224.4 437.1 L224.9 437.0 L225.4 436.9 L225.8 437.2 L226.2 437.5 L226.7 437.7 L227.1 438.0 L227.6 440.8 L228.0 443.7 L228.6 445.0 L229.2 446.3 L229.7 446.9 L230.2 447.5 L230.7 448.1 L231.1 447.9 L231.5 447.6 L232.0 447.4 L232.4 447.2 L232.9 447.1 L233.3 447.0 L233.8 446.9 L234.2 446.8 L234.7 446.4 L235.1 445.9 L235.6 445.4 L236.2 444.1 L236.7 442.8 L237.4 436.6 L238.1 427.4 L238.3 436.0 L239.2 436.0 L239.4 426.6 L240.2 428.3 L240.4 436.0 L241.3 436.0 L241.5 429.2 L242.3 430.1 L242.5 435.1 L243.1 432.4 L243.3 412.4 L244.1 410.6 L244.3 425.4 L244.8 420.0 L245.0 406.2 L245.5 415.9 L245.7 437.7 L246.6 436.0 L246.8 419.5 L247.3 414.2 L247.5 428.9 L248.4 434.2 L248.6 415.9 L249.4 408.0 L249.6 432.4 L250.5 425.4 L250.7 408.9 L251.5 392.9 L251.7 423.6 L252.6 411.2 L252.8 377.0 L253.3 364.6 L253.5 393.5 L254.0 366.9 L254.2 361.1 L255.1 360.2 L255.3 365.2 L256.2 366.1 L256.4 363.7 L257.2 364.6 L257.4 373.1 L258.3 368.7 L258.5 366.4 L259.3 359.3 L259.5 365.2 L260.4 364.3 L260.6 358.4 L261.5 357.5 L261.7 364.3 L262.5 364.3 L262.7 359.3 L263.6 352.2 L263.8 358.1 L264.6 349.2 L264.8 346.0 L265.5 344.8 L265.7 347.5 L266.4 351.9 L266.6 348.7 L267.5 355.8 L267.7 358.1 L268.5 366.1 L268.7 362.8 L269.6 373.5 L269.8 375.8 L270.7 387.3 L270.9 384.1 L271.7 392.9 L271.9 400.6 L272.4 401.5 L272.6 394.7 L273.1 391.2 L273.3 397.0 L274.2 386.4 L274.4 384.1 L275.3 379.7 L275.5 382.0 L276.7 378.5 L276.9 376.1 L278.1 375.4 L279.2 378.5 L279.4 374.3 L279.9 375.3 L280.0 376.4 L280.5 375.7 L280.9 375.0 L281.4 374.3 L281.9 374.0 L282.3 373.7 L282.7 373.5 L283.2 373.2 L283.7 373.2 L284.2 373.2 L284.8 373.2 L285.3 373.2 L285.8 373.5 L286.4 373.7 L286.9 374.0 L287.4 374.3 L287.9 374.7 L288.4 375.1 L288.8 375.5 L289.3 376.0 L289.7 376.4 L290.2 377.1 L290.7 377.8 L291.1 378.5 L291.6 379.2 L292.0 379.9 L292.6 380.5 L293.1 381.0 L293.6 381.5 L294.2 382.1 L294.6 382.9 L295.0 383.8 L295.5 384.7 L295.9 385.6 L296.4 386.4 L296.8 387.2 L297.3 388.0 L297.7 388.8 L298.1 389.7 L298.6 390.6 L299.0 391.4 L299.5 392.3 L299.9 393.2 L300.4 394.1 L300.8 395.0 L301.2 395.9 L301.8 398.5 L302.3 401.2 L303.0 405.1 L303.5 405.8 L304.0 406.6 L304.4 407.4 L305.0 407.9 L305.5 408.5 L306.0 409.1 L306.5 409.7 L307.1 410.1 L307.6 410.5 L308.1 410.9 L308.7 411.4 L309.2 411.8 L309.7 412.2 L310.3 412.5 L310.8 412.9 L311.3 413.2 L311.9 413.6 L312.4 413.9 L312.9 414.3 L313.5 414.6 L314.0 415.0 L314.5 415.3 L315.0 415.5 L315.6 415.6 L316.1 415.8 L316.6 415.9 L317.2 416.0 L317.7 416.4 L318.2 416.8 L318.8 417.1 L319.3 417.5 L319.8 417.8 L320.4 418.0 L320.9 418.2 L321.4 418.5 L321.9 418.7 L322.5 418.9 L323.0 419.2 L323.5 419.6 L324.1 419.9 L324.6 420.3 L325.1 420.6 L325.7 421.0 L326.2 421.4 L326.7 421.7 L327.3 422.1 L327.8 422.4 L328.3 422.8 L328.8 423.1 L329.4 423.5 L329.9 423.8 L330.4 424.2 L331.0 424.5 L331.5 424.8 L332.0 425.0 L332.6 425.3 L333.1 425.6 L333.6 425.8 L334.2 426.1 L334.7 426.3 L335.2 426.6 L335.8 426.8 L336.3 427.1 L336.8 427.3 L337.3 427.6 L337.9 427.8 L338.4 428.1 L338.9 428.2 L339.5 428.2 L340.0 428.3 L340.5 428.4 L341.1 428.4 L341.6 428.6 L342.1 428.7 L342.7 428.9 L343.2 429.0 L343.7 429.1 L344.2 429.1 L344.8 429.0 L345.3 428.9 L345.8 428.9 L346.4 428.8 L346.9 428.7 L347.4 428.6 L348.0 428.6 L348.5 428.5 L349.0 428.4 L349.5 428.2 L349.9 428.0 L350.4 427.8 L350.9 427.6 L351.3 427.4 L351.9 428.1 L352.4 428.8 L352.9 429.5 L353.4 429.8 L353.8 430.1 L354.3 430.3 L354.8 430.6 L355.2 430.9 L355.8 431.1 L356.3 431.2 L356.8 431.3 L357.3 431.5 L357.9 431.6 L358.4 431.8 L358.9 431.9 L359.4 432.1 L359.9 432.2 L360.4 432.4 L360.9 432.5 L361.4 432.7 L361.9 432.8 L362.4 433.0 L362.9 433.1 L363.4 433.3 L363.9 433.4 L364.5 433.6 L365.0 433.7 L365.5 433.9 L366.0 434.0 L366.5 434.2 L367.0 434.4 L367.5 434.5 L368.0 434.7 L368.5 434.8 L369.0 434.9 L369.5 435.1 L370.0 435.2 L370.5 435.3 L371.0 435.4 L371.5 435.6 L372.0 435.7 L372.5 435.7 L373.0 435.7 L373.5 435.7 L374.0 435.7 L374.5 435.7 L375.0 435.7 L375.5 435.9 L376.0 436.0 L376.5 436.1 L377.0 436.3 L377.5 436.4 L378.0 436.5 L378.5 436.7 L379.0 436.8 L379.5 436.9 L380.0 437.1 L380.5 437.2 L381.0 437.3 L381.5 437.5 L382.0 437.6 L382.5 437.7 L383.0 437.9 L383.5 438.0 L384.0 438.1 L384.5 438.3 L385.0 438.4 L385.5 438.5 L386.0 438.7 L386.5 438.7 L387.0 438.8 L387.5 438.9 L388.0 438.9 L388.5 439.0 L389.0 439.1 L389.5 439.1 L390.0 439.2 L390.5 439.3 L391.0 439.3 L391.5 439.4 L392.0 439.5 L392.5 439.5 L393.0 439.6 L393.5 439.7 L394.0 439.7 L394.5 439.8 L395.0 439.9 L395.5 439.9 L396.0 440.0 L396.5 440.1 L397.0 440.1 L397.5 440.1 L398.0 440.1 L398.5 440.1 L399.0 440.1 L399.5 440.1 L400.0 440.1 L400.5 440.0 L401.0 440.0 L401.6 440.0 L402.1 440.0 L402.6 440.0 L403.1 440.0 L403.6 440.0 L404.1 440.0 L404.6 439.9 L405.1 439.9 L405.6 439.9 L406.1 439.9 L406.6 439.9 L407.1 439.9 L407.6 439.9 L408.1 439.9 L408.6 439.8 L409.1 439.8 L409.6 439.8 L410.2 439.8 L410.7 439.8 L411.2 439.8 L411.7 439.8 L412.2 439.8 L412.7 439.8 L413.2 439.9 L413.7 439.9 L414.2 440.0 L414.7 440.0 L415.2 440.0 L415.7 440.1 L416.2 440.1 L416.7 440.2 L417.2 440.2 L417.7 440.2 L418.2 440.3 L418.8 440.3 L419.3 440.3 L419.8 440.4 L420.3 440.4 L420.8 440.5 L421.3 440.5 L421.8 440.5 L422.3 440.6 L422.8 440.6 L423.3 440.6 L423.8 440.7 L424.3 440.7 L424.8 440.8 L425.3 440.8 L425.8 440.8 L426.3 440.9 L426.8 440.9 L427.4 440.9 L427.9 441.0 L428.4 441.0 L428.9 441.1 L429.4 441.1 L429.9 441.1 L430.4 441.2 L430.9 441.2 L431.4 441.3 L431.9 441.3 L432.4 441.3 L432.9 441.4 L433.4 441.4 L433.9 441.4 L434.4 441.5 L434.9 441.5 L435.4 441.6 L435.9 441.6 L436.5 441.6 L437.0 441.7 L437.5 441.7 L438.0 441.7 L438.5 441.8 L439.0 441.8 L439.5 441.9 L440.0 441.9 L440.5 441.9 L441.0 442.0 L441.5 442.0 L442.0 442.1 L442.5 442.2 L443.0 442.2 L443.6 442.3 L444.1 442.3 L444.6 442.4 L445.1 442.5 L445.6 442.5 L446.1 442.6 L446.6 442.6 L447.1 442.7 L447.6 442.8 L448.1 442.8 L448.6 442.9 L449.2 442.9 L449.7 443.0 L450.2 443.1 L450.7 443.5 L451.2 443.9 L451.7 444.3 L452.3 444.7 L452.8 445.2 L453.3 445.6 L453.8 446.0 L454.4 445.3 L454.9 444.5 L455.4 443.8 L455.9 443.1 L456.4 442.3 L457.0 443.4 L457.5 444.5 L458.1 445.6 L458.6 446.7 L459.1 446.2 L459.6 445.7 L460.1 445.2 L460.7 444.7 L461.2 444.2 L461.7 444.3 L462.2 444.5 L462.7 444.6 L463.3 444.8 L463.8 445.0 L464.3 445.1 L464.8 445.3 L465.3 445.3 L465.8 445.4 L466.3 445.5 L466.8 445.5 L467.3 445.6 L467.8 445.7 L468.3 445.7 L468.8 445.8 L469.3 445.9 L469.8 445.9 L470.3 446.0 L470.9 446.3 L471.4 446.5 L471.9 446.8 L472.4 447.1 L473.0 447.3 L473.5 447.6 L474.0 447.8 L474.5 447.3 L475.0 446.7 L475.5 446.2 L476.0 445.6 L476.5 445.1 L476.9 444.5 L477.4 444.5 L478.0 444.5 L478.5 444.5 L479.0 444.5 L479.5 444.5 L480.0 444.5 L480.5 444.5 L481.0 444.5 L481.5 444.5 L482.0 444.5 L482.5 444.5 L483.0 444.5 L483.5 444.5 L484.0 444.5 L484.5 444.5 L485.0 444.5 L485.5 444.6 L486.0 444.6 L486.5 444.6 L487.0 444.6 L487.5 444.6 L488.0 444.6 L488.6 444.6 L489.1 444.6 L489.6 444.7 L490.1 444.7 L490.6 444.7 L491.1 444.7 L491.6 444.7 L492.1 444.7 L492.6 444.7 L493.1 444.7 L493.6 444.8 L494.1 444.8 L494.6 444.8 L495.1 444.8 L495.6 444.8 L496.1 444.8 L496.6 444.8 L497.2 444.8 L497.7 444.9 L498.2 444.9 L498.7 444.9 L499.2 444.9 L499.7 444.9 L500.2 444.9 L500.7 445.0 L501.2 445.0 L501.7 445.0 L502.2 445.0 L502.7 445.1 L503.2 445.1 L503.7 445.1 L504.2 445.1 L504.7 445.2 L505.2 445.2 L505.7 445.2 L506.3 445.2 L506.8 445.3 L507.3 445.3 L507.8 445.3 L508.3 445.3 L508.8 445.4 L509.3 445.4 L509.8 445.4 L510.3 445.4 L510.8 445.5 L511.3 445.5 L511.8 445.5 L512.3 445.5 L512.8 445.6 L513.3 445.6 L513.8 445.6 L514.3 445.6 L514.9 445.7 L515.4 445.7 L515.9 445.7 L516.4 445.7 L516.9 445.8 L517.4 445.8 L517.9 445.8 L518.4 445.8 L518.9 445.9 L519.4 445.9 L519.9 445.9 L520.4 445.9 L520.9 446.0 L521.4 446.0 L521.9 446.0 L522.4 446.0 L522.9 446.1 L523.5 446.1 L524.0 446.1 L524.5 446.1 L525.0 446.2 L525.5 446.2 L526.0 446.2 L526.5 446.2 L527.0 446.3 L527.5 446.3 L528.0 446.3 L528.5 446.3 L529.0 446.4 L529.5 446.4 L530.0 446.4 L530.5 446.4 L531.0 446.4 L531.5 446.4 L532.1 446.4 L532.6 446.5 L533.1 446.5 L533.6 446.5 L534.1 446.5 L534.6 446.5 L535.1 446.5 L535.6 446.5 L536.1 446.5 L536.6 446.6 L537.1 446.6 L537.6 446.6 L538.1 446.6 L538.6 446.6 L539.1 446.6 L539.6 446.6 L540.1 446.7 L540.6 446.7 L541.2 446.7 L541.7 446.7 L542.2 446.7 L542.7 446.7 L543.2 446.7 L543.7 446.7 L544.2 446.8 L544.7 446.8 L545.2 446.8 L545.7 446.8 L546.2 446.8 L546.7 446.8 L547.2 446.8 L547.7 446.8 L548.2 446.9 L548.7 446.9 L549.2 446.9 L549.8 446.9 L550.3 446.9 L550.8 446.9 L551.3 446.9 L551.8 446.9 L552.3 447.0 L552.8 447.0 L553.3 447.0 L553.8 447.0 L554.3 447.0 L554.8 447.0 L555.3 447.0 L555.8 447.0 L556.3 447.1 L556.8 447.1 L557.3 447.1 L557.8 447.1 L558.4 447.1 L558.9 447.1 L559.4 447.1 L559.9 447.1 L560.4 447.2 L560.9 447.2 L561.4 447.2 L561.9 447.2 L562.4 447.2 L562.9 447.2 L563.4 447.2 L563.9 447.2 L564.4 447.3 L564.9 447.3 L565.4 447.3 L565.9 447.3 L566.4 447.3 L567.0 447.3 L567.5 447.3 L568.0 447.3 L568.5 447.4 L569.0 447.4 L569.5 447.4 L570.0 447.4 L570.5 447.4 L571.0 447.4 L571.5 447.4 L572.0 447.4 L572.5 447.5 L573.0 447.5 L573.5 447.5 L574.0 447.4 L574.5 447.4 L575.0 447.4 L575.5 447.4 L576.1 447.4 L576.6 447.4 L577.1 447.4 L577.6 447.4 L578.1 447.3 L578.6 447.3 L579.1 447.3 L579.6 447.3 L580.1 447.3 L580.6 447.3 L581.1 447.3 L581.6 447.3 L582.1 447.2 L582.6 447.2 L583.1 447.2 L583.6 447.2 L584.1 447.2 L584.7 447.2 L585.2 447.2 L585.7 447.2 L586.2 447.1 L586.7 447.1 L587.2 447.1 L587.7 447.1 L588.2 447.1 L588.7 447.1 L589.2 447.1" fill="none" stroke="#000" stroke-width="1.8" stroke-linejoin="round"/>
<path d="M94.3 538.2 L95.1 538.2 L95.9 538.3 L96.7 538.5 L97.5 538.5 L98.3 538.9 L99.1 538.7 L99.9 538.9 L100.7 538.7 L101.5 538.9 L102.3 538.8 L103.1 539.1 L103.9 539.0 L104.7 539.6 L105.5 539.6 L106.3 539.5 L107.1 539.8 L107.9 540.2 L108.7 539.7 L109.5 540.2 L110.3 540.0 L111.1 540.0 L111.9 540.2 L112.7 539.9 L113.5 540.0 L114.3 540.1 L115.1 540.3 L115.9 539.9 L116.7 540.2 L117.6 540.1 L118.4 540.0 L119.3 539.8 L120.2 539.8 L121.1 539.5 L122.0 539.6 L122.9 539.5 L123.8 539.9 L124.7 539.6 L125.5 539.5 L126.3 539.5 L127.1 540.1 L127.9 540.1 L128.7 540.0 L129.5 539.7 L130.3 539.7 L131.1 539.8 L131.9 539.9 L132.7 539.8 L133.5 540.0 L134.3 539.9 L135.1 540.4 L135.9 540.4 L136.7 540.2 L137.5 540.0 L138.3 540.5 L139.1 540.1 L139.9 540.1 L140.7 539.9 L141.5 540.2 L142.3 540.2 L143.1 540.2 L143.9 540.0 L144.7 540.1 L145.5 539.8 L146.3 539.9 L147.1 539.8 L147.9 540.0 L148.7 539.7 L149.5 539.6 L150.3 539.8 L151.1 539.7 L151.9 539.8 L152.7 539.8 L153.5 539.9 L154.3 539.7 L155.1 539.7 L155.9 539.8 L156.7 539.4 L157.5 539.3 L158.4 539.8 L159.2 539.1 L160.1 539.5 L160.9 539.4 L161.8 539.0 L162.6 539.5 L163.5 539.5 L164.3 539.3 L165.2 539.4 L166.0 539.4 L167.3 538.9 L168.2 539.2 L169.1 539.1 L170.0 539.3 L170.9 539.2 L171.8 539.2 L172.7 539.0 L173.7 538.7 L174.8 538.0 L175.9 537.5 L176.9 537.9 L178.0 538.6 L179.6 535.2 L181.2 538.6 L182.1 538.2 L182.9 538.5 L183.8 538.1 L184.7 538.0 L185.6 537.4 L186.6 536.9 L187.6 536.3 L188.4 536.5 L189.2 537.5 L190.0 538.0 L190.8 537.8 L191.6 537.7 L192.4 537.7 L193.2 537.1 L194.0 537.5 L194.9 537.4 L195.8 537.6 L196.7 538.0 L197.7 538.0 L198.8 537.4 L199.9 537.5 L200.7 537.9 L201.6 537.9 L202.5 538.1 L203.3 538.4 L204.2 538.7 L205.1 538.9 L206.0 539.0 L207.1 538.2 L208.1 537.0 L209.2 531.8 L210.5 527.8 L211.6 528.8 L212.7 529.2 L213.7 529.6 L214.8 529.5 L215.9 528.0 L216.9 526.5 L218.0 528.1 L219.1 529.5 L220.1 528.9 L221.2 528.1 L222.3 528.8 L223.3 529.3 L224.4 528.0 L225.5 526.4 L227.1 526.4 L228.1 521.7 L229.7 523.8 L230.5 522.0 L231.3 519.7 L232.9 521.3 L234.0 518.4 L235.6 519.5 L236.7 521.3" fill="none" stroke="#000" stroke-width="1.15" stroke-linejoin="round"/>
<path d="M238.1 460.8 L238.8 464.3 L239.9 462.5 L240.6 468.5 L241.7 469.8 L242.8 467.3 L243.9 471.6 L245.0 475.5 L246.1 477.7 L246.9 481.7 L247.6 478.5 L248.7 475.5 L250.2 479.4 L251.6 481.1 L253.1 481.7 L253.8 484.9 L254.6 489.8 L255.7 488.4 L257.1 487.1 L258.6 483.7 L259.7 487.4 L261.2 489.1 L262.6 486.2 L264.1 487.3 L265.6 488.2 L267.0 488.2 L268.5 488.4 L269.6 493.1 L270.7 489.5 L271.8 493.6 L272.9 492.3 L274.0 496.2 L275.1 498.7 L276.2 500.1 L277.3 497.4 L278.8 498.3 L280.2 496.9 L281.3 492.1 L282.4 493.7 L283.5 491.0 L285.0 491.8 L286.5 493.5 L287.9 492.6 L289.4 495.0 L290.9 495.5 L292.3 497.8 L293.8 497.0 L295.3 498.3 L296.7 497.5 L298.2 499.1 L299.7 500.2 L301.1 500.0 L302.6 501.4 L304.1 501.0 L305.5 501.6 L307.0 502.9 L308.5 502.4 L309.9 503.4 L311.4 503.2 L312.9 503.6 L314.3 505.0 L315.8 503.0 L317.3 501.7 L318.7 501.3 L320.2 501.9 L321.7 502.3 L322.6 503.1 L323.5 502.7 L324.4 503.4 L325.3 503.8 L326.3 504.2 L327.2 505.0 L328.1 505.4 L329.0 505.0 L329.9 505.4" fill="none" stroke="#000" stroke-width="1.15" stroke-linejoin="round"/>
<path d="M94.3 538.6 L94.9 538.2 L95.5 538.6 L96.2 538.4 L96.8 538.1 L97.5 538.2 L98.1 538.3 L98.7 539.4 L99.4 538.8 L100.0 538.5 L100.7 539.5 L101.3 539.8 L101.9 539.0 L102.5 538.6 L103.1 538.8 L103.7 538.7 L104.4 539.2 L105.0 538.9 L105.6 539.2 L106.2 539.3 L106.8 539.9 L107.4 540.4 L108.1 540.3 L108.7 539.9 L109.3 539.9 L109.9 540.0 L110.5 539.8 L111.1 539.8 L111.7 539.3 L112.4 539.7 L113.0 540.7 L113.6 539.4 L114.2 540.0 L114.8 540.2 L115.4 540.5 L116.1 539.6 L116.7 539.7 L117.3 539.6 L117.9 539.8 L118.5 539.9 L119.1 540.6 L119.7 540.4 L120.4 540.4 L121.0 539.1 L121.6 539.1 L122.2 540.1 L122.8 540.4 L123.4 539.7 L124.1 539.9 L124.7 539.0 L125.3 539.6 L125.9 540.4 L126.5 540.3 L127.1 540.3 L127.7 540.5 L128.4 539.5 L129.0 539.3 L129.6 539.4 L130.2 540.0 L130.8 540.2 L131.4 540.6 L132.1 540.3 L132.7 540.2 L133.3 540.4 L133.9 540.0 L134.5 540.1 L135.1 539.4 L135.7 540.5 L136.4 539.7 L137.0 540.8 L137.6 540.4 L138.2 539.9 L138.8 539.6 L139.4 539.9 L140.1 540.5 L140.7 540.6 L141.3 539.7 L141.9 539.6 L142.5 540.2 L143.1 540.3 L143.7 540.0 L144.4 539.7 L145.0 540.3 L145.6 539.4 L146.2 539.8 L146.8 540.0 L147.4 540.7 L148.1 540.2 L148.7 540.6 L149.3 539.9 L149.9 539.5 L150.5 539.5 L151.1 540.5 L151.7 540.1 L152.4 539.5 L153.0 539.0 L153.6 539.7 L154.2 539.9 L154.8 539.5 L155.4 539.2 L156.1 539.8 L156.7 540.1 L157.3 539.0 L157.9 538.7 L158.5 539.2 L159.2 539.3 L159.8 539.7 L160.4 538.9 L161.0 539.8 L161.6 539.7 L162.3 539.3 L162.9 538.8 L163.5 540.0 L164.1 539.0 L164.8 539.7 L165.4 538.8 L166.0 539.2" fill="none" stroke="#000" stroke-width="3.0" stroke-linejoin="round" stroke-linecap="round"/>
<path d="M254.6 489.0 L255.7 489.1 L256.4 487.8 L257.1 488.1 L257.9 486.0 L258.6 484.2 L259.7 487.0 L260.4 487.9 L261.2 488.9 L261.9 488.5 L262.6 486.3 L263.4 487.0 L264.1 487.0 L264.8 488.6 L265.6 487.8 L266.3 487.5 L267.0 487.3 L267.8 488.2 L268.5 489.3 L269.6 492.6 L270.7 490.1 L271.8 494.6 L272.9 493.0 L274.0 495.8 L275.1 497.9 L276.2 500.4 L277.3 498.2 L278.0 497.4 L278.8 498.7 L279.5 497.0 L280.2 496.0" fill="none" stroke="#000" stroke-width="1.8" stroke-linejoin="round" stroke-linecap="round"/>
<path d="M281.3 492.2 L282.4 493.6 L283.5 491.1 L284.3 491.1 L285.0 491.7 L285.7 492.7 L286.5 494.5 L287.2 492.8 L287.9 493.6 L288.7 493.4 L289.4 494.5 L290.1 495.7 L290.9 496.2 L291.6 496.5 L292.3 496.8 L293.1 497.3 L293.8 496.9 L294.5 498.4 L295.3 498.0 L296.0 497.8 L296.7 498.1 L297.5 497.7 L298.2 499.2 L298.9 500.3 L299.7 500.7 L300.4 499.3 L301.1 499.0 L301.9 499.8 L302.6 501.8 L303.3 500.6 L304.1 501.2 L304.8 501.8 L305.5 501.3 L306.3 501.7 L307.0 503.3 L307.7 502.5 L308.5 501.7 L309.2 503.1 L309.9 503.1 L310.7 502.8 L311.4 502.3 L312.1 503.8 L312.9 504.5 L313.6 504.6 L314.3 505.5 L315.1 503.6 L315.8 503.3 L316.4 503.5 L317.0 503.9 L317.6 503.0" fill="none" stroke="#000" stroke-width="2.4" stroke-linejoin="round" stroke-linecap="round"/>
<path d="M327.2 505.5 L327.9 504.8 L328.5 504.7 L329.2 505.1 L329.9 505.4 L330.6 506.1 L331.3 505.1 L332.0 506.1 L332.7 506.1 L333.3 506.3 L333.9 506.3 L334.5 506.2 L335.1 505.9 L335.7 505.9 L336.3 506.1 L336.9 506.8 L337.6 505.8 L338.2 506.0 L338.8 506.9 L339.4 506.2 L340.0 506.7" fill="none" stroke="#000" stroke-width="2.4" stroke-linejoin="round" stroke-linecap="round"/>
<path d="M340.0 505.1 L340.7 505.1 L341.4 506.0 L342.0 505.7 L342.7 506.8 L343.3 506.7 L344.0 506.9 L344.7 506.0 L345.4 505.9 L346.1 506.2 L346.8 506.9 L347.5 507.4 L348.2 507.3 L348.9 507.3 L349.6 507.8 L350.3 508.4 L351.0 508.8 L351.7 509.1 L352.3 509.5 L353.0 509.4 L353.7 508.8 L354.3 510.0 L355.0 509.4 L355.7 510.0 L356.3 509.9 L357.0 510.7 L357.7 510.1 L358.3 510.4 L359.0 510.6 L359.7 510.6 L360.3 511.9 L361.0 511.6 L361.7 511.4 L362.3 511.7 L363.0 512.7 L363.7 512.2 L364.3 511.9 L365.0 513.0 L365.7 512.9 L366.3 513.6 L367.0 512.4 L367.7 513.1 L368.3 513.8 L369.0 514.0 L369.7 514.3 L370.3 513.1 L371.0 513.6 L371.7 513.5 L372.3 513.7 L373.0 515.0 L373.7 514.6 L374.3 515.2 L375.0 514.5 L375.7 515.3 L376.4 514.8 L377.1 514.6 L377.8 515.5 L378.7 515.4 L379.5 514.4" fill="none" stroke="#000" stroke-width="2.4" stroke-linejoin="round" stroke-linecap="round"/>
<path d="M383.2 515.4 L383.9 516.2 L384.5 516.3 L385.2 515.8 L385.9 516.1 L386.5 515.8 L387.2 516.0 L387.9 516.1 L388.5 516.6 L389.2 516.8 L389.8 516.1 L390.4 515.9 L391.1 516.4 L391.7 516.9 L392.4 516.2 L393.0 516.7" fill="none" stroke="#000" stroke-width="1.2" stroke-linejoin="round" stroke-linecap="round"/>
<path d="M398.1 517.1 L398.7 516.8 L399.3 517.5 L400.0 516.9 L400.6 516.0 L401.2 515.9 L401.9 516.5 L402.6 517.0 L403.3 517.4 L404.0 516.8 L404.7 517.1 L405.3 518.0 L406.0 517.7 L406.7 517.6 L407.3 517.7 L408.0 518.8 L408.7 518.0 L409.3 518.4 L410.0 518.2 L410.7 518.3 L411.3 519.1 L412.0 519.3 L412.7 518.5 L413.3 518.3 L414.0 519.1 L414.7 518.3 L415.3 517.9 L416.0 519.2 L416.7 518.4 L417.3 518.9 L418.0 518.3 L418.7 518.9 L419.3 518.3 L420.0 517.8 L420.7 517.6 L421.3 518.4 L422.0 518.5 L422.7 518.9 L423.3 517.7 L424.0 518.5 L424.7 518.1 L425.3 518.3 L426.0 517.8 L426.7 518.0 L427.3 518.4 L428.0 519.0 L428.7 517.9 L429.3 518.6 L430.0 519.2 L430.7 519.6 L431.3 518.5 L432.0 518.6 L432.7 519.9 L433.4 520.3 L434.1 519.8 L434.8 519.4 L435.5 521.0 L436.2 520.5 L436.9 521.6 L437.6 521.6 L438.3 522.3 L439.0 521.7 L439.7 523.0 L440.4 521.9 L441.1 522.0 L441.8 522.5 L442.5 522.3 L443.2 521.1 L443.9 520.9 L444.7 520.8 L445.5 520.7 L446.3 521.0 L447.1 521.0 L447.8 521.7 L448.6 522.5 L449.4 522.8 L450.2 522.3" fill="none" stroke="#000" stroke-width="2.5" stroke-linejoin="round" stroke-linecap="round"/>
<path d="M459.7 521.8 L460.3 522.8 L461.0 523.2 L461.7 522.2 L462.3 523.6 L463.0 522.6 L463.7 523.5 L464.3 523.5 L465.0 523.8 L465.7 523.4 L466.3 523.7 L467.0 524.1 L467.7 524.0 L468.3 524.5 L469.0 524.3 L469.7 524.2 L470.3 523.4 L471.0 524.2 L471.7 523.9 L472.3 523.3 L473.0 524.0 L473.7 523.9 L474.3 523.5 L475.0 523.1 L475.7 523.6 L476.3 523.1 L477.0 523.2 L477.7 523.8 L478.3 523.3 L479.0 523.8 L479.7 523.9 L480.3 523.2 L481.0 524.1 L481.7 523.3 L482.3 524.3 L483.0 524.3 L483.7 524.2 L484.3 523.7 L485.0 524.5 L485.7 524.6 L486.3 525.6 L487.0 524.6 L487.7 525.9 L488.3 526.2 L489.0 525.9 L489.7 526.2 L490.3 525.4 L491.0 526.7 L491.7 526.1 L492.3 527.0 L493.0 527.0 L493.7 526.0 L494.3 527.1 L495.0 527.4 L495.7 526.3 L496.3 526.8 L497.0 527.6 L497.7 526.6 L498.3 527.5 L499.0 526.5 L499.7 527.1 L500.3 526.0 L501.0 526.4 L501.7 526.9 L502.3 525.8 L503.0 525.8 L503.7 526.1 L504.3 525.7 L505.0 525.2 L505.7 525.4 L506.3 525.3 L507.0 526.5 L507.7 526.2 L508.3 526.6 L509.0 525.6 L509.7 526.6 L510.3 525.6 L511.0 526.3 L511.7 526.6 L512.3 526.3 L513.0 527.1 L513.7 526.7 L514.3 526.9 L515.0 527.4 L515.7 526.4 L516.3 527.8 L517.0 527.4 L517.7 527.1 L518.3 527.8 L519.0 527.1 L519.7 528.3 L520.3 527.8 L521.0 527.7 L521.7 528.6 L522.4 528.4 L523.1 528.3 L523.8 529.4 L524.5 528.0 L525.2 528.8 L525.9 527.6 L526.6 527.8 L527.3 527.9 L528.0 527.5 L528.7 527.8 L529.4 527.5 L530.1 527.2 L530.8 527.4 L531.5 527.5 L532.2 528.2 L532.8 527.8 L533.5 527.9 L534.2 528.4 L534.8 527.2 L535.5 527.3 L536.2 528.1 L536.8 527.3 L537.5 527.4 L538.2 528.1 L538.8 527.9 L539.5 528.5 L540.2 528.4 L540.9 529.2 L541.6 529.4 L542.3 529.1 L543.0 530.0 L543.7 530.0 L544.4 529.5 L545.1 530.8 L545.8 529.9 L546.5 529.8 L547.2 529.9 L547.9 530.4 L548.6 530.5 L549.3 530.1 L550.0 529.2 L550.7 528.7 L551.3 528.1 L552.0 528.9 L552.7 528.6 L553.3 528.0 L554.0 528.3 L554.7 527.8 L555.3 528.3 L556.0 528.2 L556.7 527.6 L557.3 528.7 L558.0 527.5 L558.7 528.4 L559.3 528.3 L560.0 528.2 L560.7 528.1 L561.3 529.3 L562.0 528.3 L562.7 529.2 L563.3 529.9 L564.0 528.9 L564.7 529.1 L565.4 529.8 L566.1 529.7 L566.8 530.0 L567.5 530.4 L568.2 529.5 L568.9 529.6 L569.6 529.5 L570.3 529.0 L571.0 530.2 L571.7 530.0 L572.4 530.0 L573.1 529.2 L573.8 530.6 L574.5 530.6 L575.2 530.4 L575.9 530.9 L576.6 530.5 L577.3 530.2 L578.0 530.1 L578.7 530.3 L579.4 529.9 L580.1 530.2 L580.8 530.7 L581.5 530.4 L582.2 530.5 L582.9 530.3 L583.6 529.6 L584.3 530.1 L585.0 529.9 L585.7 530.4 L586.4 529.9 L587.1 529.4 L587.8 529.9 L588.5 529.5" fill="none" stroke="#000" stroke-width="2.5" stroke-linejoin="round" stroke-linecap="round"/>
<circle cx="242.1" cy="463.0" r="1.35" fill="#000"/>
<circle cx="248.3" cy="472.2" r="1.35" fill="#000"/>
<circle cx="253.5" cy="476.8" r="1.35" fill="#000"/>
<circle cx="259.3" cy="483.2" r="1.35" fill="#000"/>
<circle cx="270.7" cy="486.1" r="1.35" fill="#000"/>
<circle cx="273.6" cy="503.9" r="1.35" fill="#000"/>
<circle cx="276.9" cy="502.1" r="1.35" fill="#000"/>
<circle cx="279.9" cy="489.8" r="1.35" fill="#000"/>
<circle cx="281.3" cy="494.8" r="1.35" fill="#000"/>
<circle cx="283.9" cy="497.1" r="1.35" fill="#000"/>
<circle cx="289.0" cy="489.3" r="1.35" fill="#000"/>
<circle cx="296.9" cy="496.6" r="1.35" fill="#000"/>
<circle cx="300.0" cy="505.8" r="1.35" fill="#000"/>
<circle cx="302.2" cy="502.6" r="1.35" fill="#000"/>
<circle cx="314.7" cy="507.0" r="1.35" fill="#000"/>
<circle cx="316.2" cy="502.1" r="1.35" fill="#000"/>
<circle cx="317.3" cy="505.2" r="1.35" fill="#000"/>
<g stroke="#000" stroke-width="1.85" fill="none" stroke-linecap="butt">
<rect x="94" y="21.1" width="495.8" height="536.9"/>
<line x1="94" y1="127.8" x2="589.8" y2="127.8" stroke-width="1.7"/>
<line x1="94" y1="235.6" x2="589.8" y2="235.6" stroke-width="1.7"/>
<line x1="94" y1="343.2" x2="589.8" y2="343.2" stroke-width="1.7"/>
<line x1="94" y1="450.6" x2="589.8" y2="450.6" stroke-width="1.7"/>
<line x1="94" y1="75" x2="589.8" y2="75" stroke-width="1.6"/>
<line x1="94" y1="182.2" x2="589.8" y2="182.2" stroke-width="1.6"/>
<line x1="94" y1="290.8" x2="589.8" y2="290.8" stroke-width="1.6"/>
</g>
<path d="M107.1 21.1v4.4M107.1 558v-4.1M121 21.1v4.4M121 558v-4.1M134.8 21.1v4.4M134.8 558v-4.1M148.6 21.1v4.4M148.6 558v-4.1M162.4 21.1v4.4M162.4 558v-4.1M176.3 21.1v6.3M176.3 558v-6.3M190.1 21.1v4.4M190.1 558v-4.1M203.9 21.1v4.4M203.9 558v-4.1M217.8 21.1v4.4M217.8 558v-4.1M231.6 21.1v4.4M231.6 558v-4.1M245.4 21.1v4.4M245.4 558v-4.1M259.3 21.1v6.3M259.3 558v-4.1M273.1 21.1v4.4M273.1 558v-4.1M286.9 21.1v4.4M286.9 558v-4.1M300.8 21.1v4.4M300.8 558v-4.1M314.6 21.1v4.4M314.6 558v-4.1M328.4 21.1v4.4M328.4 558v-4.1M342.2 21.1v6.3M342.2 558v-6.3M356.1 21.1v4.4M356.1 558v-4.1M369.9 21.1v4.4M369.9 558v-4.1M383.7 21.1v4.4M383.7 558v-4.1M397.6 21.1v4.4M397.6 558v-4.1M411.4 21.1v4.4M411.4 558v-4.1M425.2 21.1v6.3M425.2 558v-6.3M439.1 21.1v4.4M439.1 558v-4.1M452.9 21.1v4.4M452.9 558v-4.1M466.7 21.1v4.4M466.7 558v-4.1M480.5 21.1v4.4M480.5 558v-4.1M494.4 21.1v4.4M494.4 558v-4.1M508.2 21.1v6.3M508.2 558v-6.3M522 21.1v4.4M522 558v-4.1M535.9 21.1v4.4M535.9 558v-4.1M549.7 21.1v4.4M549.7 558v-4.1M563.5 21.1v4.4M563.5 558v-4.1M577.4 21.1v4.4M577.4 558v-4.1M94 47.8h7.7M589.8 47.8h-7.7M94 102.2h7.7M589.8 102.2h-7.7M94 155.2h7.7M589.8 155.2h-7.7M94 209.2h7.7M589.8 209.2h-7.7M94 262.6h7.7M589.8 262.6h-7.7M94 319h7.7M589.8 319h-7.7M94 440.8h6M589.8 440.8h-6M94 431h6M589.8 431h-6M94 421.1h6M589.8 421.1h-6M94 411.3h7.7M589.8 411.3h-7.7M94 401.5h6M589.8 401.5h-6M94 391.7h6M589.8 391.7h-6M94 381.9h6M589.8 381.9h-6M94 372h7.7M589.8 372h-7.7M94 362.2h6M589.8 362.2h-6M94 352.4h6M589.8 352.4h-6M94 536.5h6M589.8 536.5h-6M94 515.1h7.7M589.8 515.1h-7.7M94 493.6h6M589.8 493.6h-6M94 472.2h7.7M589.8 472.2h-7.7" stroke="#000" stroke-width="1.6" fill="none"/>
<g stroke="#000" stroke-width="1.85" fill="none">
<line x1="208.9" y1="21.1" x2="208.9" y2="343.2" stroke-dasharray="7.1 4.74" stroke-dashoffset="0.33"/>
<line x1="208.9" y1="343.2" x2="208.9" y2="450.6" stroke-dasharray="7.1 4.74" stroke-dashoffset="4.07"/>
<line x1="208.9" y1="450.6" x2="208.9" y2="558" stroke-dasharray="7.2 4.55" stroke-dashoffset="10.4"/>
<line x1="227" y1="21.1" x2="227" y2="343.2" stroke-dasharray="5.3 3.5" stroke-dashoffset="7.0"/>
<line x1="227" y1="343.2" x2="227" y2="450.6" stroke-dasharray="5.3 3.5" stroke-dashoffset="3.55"/>
<line x1="227" y1="450.6" x2="227" y2="558" stroke-dasharray="5.3 3.55" stroke-dashoffset="0"/>
<line x1="237.4" y1="21.1" x2="237.4" y2="558" stroke-width="1.6"/>
<line x1="253.25" y1="21.1" x2="253.25" y2="558" stroke-dasharray="3.7 2.2" stroke-dashoffset="1.5" stroke-width="1.75"/>
</g>
<g stroke="#000" stroke-width="0.1">
<text transform="translate(208.4,15) scale(1,0.94)" font-size="15.8" text-anchor="middle">1</text>
<text transform="translate(226.7,15) scale(1,0.94)" font-size="15.8" text-anchor="middle">2</text>
<text transform="translate(236.3,15) scale(1,0.94)" font-size="15.8" text-anchor="middle">3</text>
<text transform="translate(252.2,15) scale(1,0.94)" font-size="15.8" text-anchor="middle">4</text>
<text transform="translate(302.5,49.2) scale(1,0.94)" font-size="16.1" text-anchor="start">STEREO A</text>
<text transform="translate(89,26.3) scale(1,0.94)" font-size="15.8" text-anchor="end">1.0</text>
<text transform="translate(89,53.3) scale(1,0.94)" font-size="15.8" text-anchor="end">0.5</text>
<text transform="translate(89,80.6) scale(1,0.94)" font-size="15.8" text-anchor="end">0.0</text>
<text transform="translate(89,107.8) scale(1,0.94)" font-size="15.8" text-anchor="end">-0.5</text>
<text transform="translate(89,160.8) scale(1,0.94)" font-size="15.8" text-anchor="end">0.5</text>
<text transform="translate(89,187.8) scale(1,0.94)" font-size="15.8" text-anchor="end">0.0</text>
<text transform="translate(89,214.8) scale(1,0.94)" font-size="15.8" text-anchor="end">-0.5</text>
<text transform="translate(89,268.2) scale(1,0.94)" font-size="15.8" text-anchor="end">0.5</text>
<text transform="translate(89,296.4) scale(1,0.94)" font-size="15.8" text-anchor="end">0.0</text>
<text transform="translate(89,324.6) scale(1,0.94)" font-size="15.8" text-anchor="end">-0.5</text>
<text transform="translate(89,377.3) scale(1,0.94)" font-size="15.8" text-anchor="end">80</text>
<text transform="translate(89,416.6) scale(1,0.94)" font-size="15.8" text-anchor="end">40</text>
<text transform="translate(89,454.7) scale(1,0.94)" font-size="15.8" text-anchor="end">0</text>
<text transform="translate(89,477.5) scale(1,0.94)" font-size="15.8" text-anchor="end">2000</text>
<text transform="translate(89,520.4) scale(1,0.94)" font-size="15.8" text-anchor="end">1000</text>
<text transform="translate(89,562.4) scale(1,0.94)" font-size="15.8" text-anchor="end">0</text>
<text transform="translate(28.8,80.6) scale(1,0.94)" font-size="15.8" text-anchor="start">B<tspan font-size="11" dx="0.7" dy="4.5">R</tspan></text>
<path d="M32.6 67.3 L34.4 64.9 L36.2 67.3" stroke="#000" stroke-width="1.1" fill="none"/>
<text transform="translate(30.2,186.7) scale(1,0.94)" font-size="15.8" text-anchor="start">B<tspan font-size="11" dx="0.7" dy="4.5">T</tspan></text>
<path d="M34 173.4 L35.8 171 L37.6 173.4" stroke="#000" stroke-width="1.1" fill="none"/>
<text transform="translate(29.8,294) scale(1,0.94)" font-size="15.8" text-anchor="start">B<tspan font-size="11" dx="0.7" dy="4.5">N</tspan></text>
<path d="M33.6 280.7 L35.4 278.3 L37.2 280.7" stroke="#000" stroke-width="1.1" fill="none"/>
<text transform="translate(13.5,293.4) rotate(-90) scale(1,0.94)" font-size="16.0" text-anchor="middle">1-Minute Magnetic Field Direction Cosines (RTN)</text>
<text transform="translate(46,391) rotate(-90) scale(1,0.94)" font-size="16.0" text-anchor="middle">|B| [nT]</text>
<text transform="translate(46,506) rotate(-90) scale(1,0.94)" font-size="15.6" text-anchor="middle">V [km/s]</text>
<text transform="translate(93.9,576.3) scale(1,0.94)" font-size="15.8" text-anchor="middle">00</text>
<text transform="translate(175.2,576.3) scale(1,0.94)" font-size="15.8" text-anchor="middle">12</text>
<text transform="translate(259.6,576.3) scale(1,0.94)" font-size="15.8" text-anchor="middle">00</text>
<text transform="translate(341.1,576.3) scale(1,0.94)" font-size="15.8" text-anchor="middle">12</text>
<text transform="translate(425.5,576.3) scale(1,0.94)" font-size="15.8" text-anchor="middle">00</text>
<text transform="translate(507.1,576.3) scale(1,0.94)" font-size="15.8" text-anchor="middle">12</text>
<text transform="translate(589.6,576.3) scale(1,0.94)" font-size="15.8" text-anchor="middle">00</text>
<text transform="translate(174.5,595.9) scale(1,0.94)" font-size="16.0" text-anchor="middle">July 23</text>
<text transform="translate(339.5,595.9) scale(1,0.94)" font-size="16.0" text-anchor="middle">July 24</text>
<text transform="translate(505,595.9) scale(1,0.94)" font-size="16.0" text-anchor="middle">July 25, 2012</text>
<text transform="translate(343,615.8) scale(1,0.94)" font-size="16.0" text-anchor="middle">Universal Time</text>
<line x1="355" y1="468.1" x2="368.7" y2="468.1" stroke="#000" stroke-width="1.4"/>
<text transform="translate(374.3,472.9) scale(1,0.94)" font-size="14.8" text-anchor="start">Proton Fit (5 min data)</text>
<circle cx="360.5" cy="486.5" r="1.3" fill="#000" stroke="none"/>
<text transform="translate(374,491) scale(1,0.94)" font-size="14.8" text-anchor="start">O<tspan font-size="11" dy="-5">7+</tspan><tspan dy="5"> and O</tspan><tspan font-size="11" dy="-5">6+</tspan><tspan dy="5"> Fits (10 min data)</tspan></text>
</g>
</svg></body></html>
